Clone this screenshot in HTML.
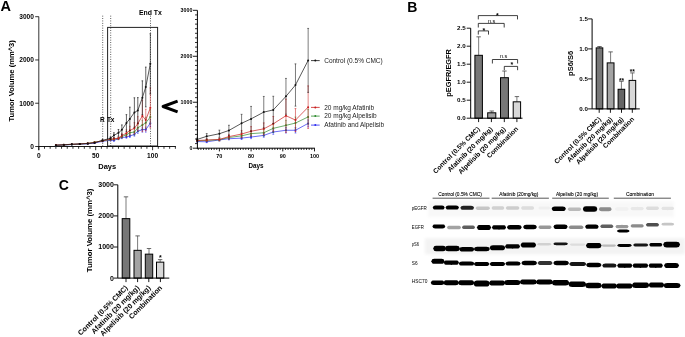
<!DOCTYPE html>
<html><head><meta charset="utf-8"><style>
html,body{margin:0;padding:0;background:#fff;}
body{width:685px;height:337px;overflow:hidden;}
svg{display:block;font-family:"Liberation Sans", sans-serif;}
text{opacity:0.999;}
</style></head><body>
<svg width="685" height="337" viewBox="0 0 685 337">
<defs>
<filter id="bandblur" x="-10%" y="-50%" width="120%" height="200%"><feGaussianBlur stdDeviation="0.6 0.65"/></filter>
<filter id="bgblur" x="-5%" y="-30%" width="110%" height="160%"><feGaussianBlur stdDeviation="1.6"/></filter>
</defs>
<rect width="685" height="337" fill="#fff"/>
<text x="0.4" y="11.4" font-size="14.5" text-anchor="start" font-weight="bold" fill="#000" >A</text>
<text x="407.3" y="11.5" font-size="14" text-anchor="start" font-weight="bold" fill="#000" >B</text>
<text x="58.8" y="190" font-size="14" text-anchor="start" font-weight="bold" fill="#000" >C</text>
<line x1="102.7" y1="15.7" x2="102.7" y2="146" stroke="#000" stroke-width="0.7" stroke-dasharray="0.9 1.5"/>
<line x1="110.7" y1="15.7" x2="110.7" y2="146" stroke="#000" stroke-width="0.7" stroke-dasharray="0.9 1.5"/>
<line x1="150.5" y1="15.7" x2="150.5" y2="146" stroke="#000" stroke-width="0.7" stroke-dasharray="0.9 1.5"/>
<rect x="107.6" y="27.4" width="50" height="118.6" fill="none" stroke="#222" stroke-width="1"/>
<line x1="38.8" y1="16.6" x2="38.8" y2="150.2" stroke="#000" stroke-width="0.8" />
<line x1="38.8" y1="146.5" x2="175.9" y2="146.5" stroke="#000" stroke-width="0.9" />
<line x1="35.2" y1="146.5" x2="38.8" y2="146.5" stroke="#000" stroke-width="0.8" />
<text x="33.9" y="148.8" font-size="6.6" text-anchor="end" font-weight="bold" fill="#000" >0</text>
<line x1="35.2" y1="103.23" x2="38.8" y2="103.23" stroke="#000" stroke-width="0.8" />
<text x="33.9" y="105.53" font-size="6.6" text-anchor="end" font-weight="bold" fill="#000" >1000</text>
<line x1="35.2" y1="59.96" x2="38.8" y2="59.96" stroke="#000" stroke-width="0.8" />
<text x="33.9" y="62.26" font-size="6.6" text-anchor="end" font-weight="bold" fill="#000" >2000</text>
<line x1="35.2" y1="16.69" x2="38.8" y2="16.69" stroke="#000" stroke-width="0.8" />
<text x="33.9" y="18.99" font-size="6.6" text-anchor="end" font-weight="bold" fill="#000" >3000</text>
<line x1="38.8" y1="146.5" x2="38.8" y2="150.2" stroke="#000" stroke-width="0.8" />
<line x1="44.49" y1="146.5" x2="44.49" y2="148.8" stroke="#000" stroke-width="0.8" />
<line x1="50.18" y1="146.5" x2="50.18" y2="148.8" stroke="#000" stroke-width="0.8" />
<line x1="55.87" y1="146.5" x2="55.87" y2="148.8" stroke="#000" stroke-width="0.8" />
<line x1="61.56" y1="146.5" x2="61.56" y2="148.8" stroke="#000" stroke-width="0.8" />
<line x1="67.25" y1="146.5" x2="67.25" y2="148.8" stroke="#000" stroke-width="0.8" />
<line x1="72.94" y1="146.5" x2="72.94" y2="148.8" stroke="#000" stroke-width="0.8" />
<line x1="78.63" y1="146.5" x2="78.63" y2="148.8" stroke="#000" stroke-width="0.8" />
<line x1="84.32" y1="146.5" x2="84.32" y2="148.8" stroke="#000" stroke-width="0.8" />
<line x1="90.01" y1="146.5" x2="90.01" y2="148.8" stroke="#000" stroke-width="0.8" />
<line x1="95.7" y1="146.5" x2="95.7" y2="150.2" stroke="#000" stroke-width="0.8" />
<line x1="101.39" y1="146.5" x2="101.39" y2="148.8" stroke="#000" stroke-width="0.8" />
<line x1="107.08" y1="146.5" x2="107.08" y2="148.8" stroke="#000" stroke-width="0.8" />
<line x1="112.77" y1="146.5" x2="112.77" y2="148.8" stroke="#000" stroke-width="0.8" />
<line x1="118.46" y1="146.5" x2="118.46" y2="148.8" stroke="#000" stroke-width="0.8" />
<line x1="124.15" y1="146.5" x2="124.15" y2="148.8" stroke="#000" stroke-width="0.8" />
<line x1="129.84" y1="146.5" x2="129.84" y2="148.8" stroke="#000" stroke-width="0.8" />
<line x1="135.53" y1="146.5" x2="135.53" y2="148.8" stroke="#000" stroke-width="0.8" />
<line x1="141.22" y1="146.5" x2="141.22" y2="148.8" stroke="#000" stroke-width="0.8" />
<line x1="146.91" y1="146.5" x2="146.91" y2="148.8" stroke="#000" stroke-width="0.8" />
<line x1="152.6" y1="146.5" x2="152.6" y2="150.2" stroke="#000" stroke-width="0.8" />
<line x1="158.29" y1="146.5" x2="158.29" y2="148.8" stroke="#000" stroke-width="0.8" />
<line x1="163.98" y1="146.5" x2="163.98" y2="148.8" stroke="#000" stroke-width="0.8" />
<line x1="169.67" y1="146.5" x2="169.67" y2="148.8" stroke="#000" stroke-width="0.8" />
<line x1="175.36" y1="146.5" x2="175.36" y2="148.8" stroke="#000" stroke-width="0.8" />
<text x="38.8" y="158" font-size="6.6" text-anchor="middle" font-weight="bold" fill="#000" >0</text>
<text x="95.7" y="158" font-size="6.6" text-anchor="middle" font-weight="bold" fill="#000" >50</text>
<text x="152.6" y="158" font-size="6.6" text-anchor="middle" font-weight="bold" fill="#000" >100</text>
<text x="107.2" y="168.9" font-size="7.5" text-anchor="middle" font-weight="bold" fill="#000" >Days</text>
<text x="0" y="0" font-size="7.6" font-weight="bold" text-anchor="middle" transform="translate(13.8 80.8) rotate(-90)">Tumor Volume (mm^3)</text>
<text x="100" y="122" font-size="6.5" text-anchor="start" font-weight="bold" fill="#000" >R</text>
<text x="106.9" y="122" font-size="6.5" text-anchor="start" font-weight="bold" fill="#000" >Tx</text>
<text x="150.4" y="14.8" font-size="6.9" text-anchor="middle" font-weight="bold" fill="#000" >End Tx</text>
<line x1="55.87" y1="145.24" x2="55.87" y2="145.51" stroke="#2b2bf0" stroke-width="0.5" />
<line x1="55.07" y1="145.24" x2="56.67" y2="145.24" stroke="#2b2bf0" stroke-width="0.5" />
<line x1="55.07" y1="145.51" x2="56.67" y2="145.51" stroke="#2b2bf0" stroke-width="0.5" />
<line x1="63.84" y1="144.85" x2="63.84" y2="145.21" stroke="#2b2bf0" stroke-width="0.5" />
<line x1="63.04" y1="144.85" x2="64.64" y2="144.85" stroke="#2b2bf0" stroke-width="0.5" />
<line x1="63.04" y1="145.21" x2="64.64" y2="145.21" stroke="#2b2bf0" stroke-width="0.5" />
<line x1="71.8" y1="144.32" x2="71.8" y2="144.79" stroke="#2b2bf0" stroke-width="0.5" />
<line x1="71" y1="144.32" x2="72.6" y2="144.32" stroke="#2b2bf0" stroke-width="0.5" />
<line x1="71" y1="144.79" x2="72.6" y2="144.79" stroke="#2b2bf0" stroke-width="0.5" />
<line x1="79.77" y1="143.83" x2="79.77" y2="144.41" stroke="#2b2bf0" stroke-width="0.5" />
<line x1="78.97" y1="143.83" x2="80.57" y2="143.83" stroke="#2b2bf0" stroke-width="0.5" />
<line x1="78.97" y1="144.41" x2="80.57" y2="144.41" stroke="#2b2bf0" stroke-width="0.5" />
<line x1="87.73" y1="143.5" x2="87.73" y2="144.14" stroke="#2b2bf0" stroke-width="0.5" />
<line x1="86.93" y1="143.5" x2="88.53" y2="143.5" stroke="#2b2bf0" stroke-width="0.5" />
<line x1="86.93" y1="144.14" x2="88.53" y2="144.14" stroke="#2b2bf0" stroke-width="0.5" />
<line x1="94.56" y1="142.62" x2="94.56" y2="143.45" stroke="#2b2bf0" stroke-width="0.5" />
<line x1="93.76" y1="142.62" x2="95.36" y2="142.62" stroke="#2b2bf0" stroke-width="0.5" />
<line x1="93.76" y1="143.45" x2="95.36" y2="143.45" stroke="#2b2bf0" stroke-width="0.5" />
<line x1="102.53" y1="140.68" x2="102.53" y2="141.93" stroke="#2b2bf0" stroke-width="0.5" />
<line x1="101.73" y1="140.68" x2="103.33" y2="140.68" stroke="#2b2bf0" stroke-width="0.5" />
<line x1="101.73" y1="141.93" x2="103.33" y2="141.93" stroke="#2b2bf0" stroke-width="0.5" />
<line x1="110.49" y1="139.58" x2="110.49" y2="140.87" stroke="#2b2bf0" stroke-width="0.5" />
<line x1="109.69" y1="139.58" x2="111.29" y2="139.58" stroke="#2b2bf0" stroke-width="0.5" />
<line x1="109.69" y1="140.87" x2="111.29" y2="140.87" stroke="#2b2bf0" stroke-width="0.5" />
<line x1="113.91" y1="139.71" x2="113.91" y2="141.26" stroke="#2b2bf0" stroke-width="0.5" />
<line x1="113.11" y1="139.71" x2="114.71" y2="139.71" stroke="#2b2bf0" stroke-width="0.5" />
<line x1="113.11" y1="141.26" x2="114.71" y2="141.26" stroke="#2b2bf0" stroke-width="0.5" />
<line x1="118.46" y1="137.76" x2="118.46" y2="139.66" stroke="#2b2bf0" stroke-width="0.5" />
<line x1="117.66" y1="137.76" x2="119.26" y2="137.76" stroke="#2b2bf0" stroke-width="0.5" />
<line x1="117.66" y1="139.66" x2="119.26" y2="139.66" stroke="#2b2bf0" stroke-width="0.5" />
<line x1="121.87" y1="136.5" x2="121.87" y2="138.67" stroke="#2b2bf0" stroke-width="0.5" />
<line x1="121.07" y1="136.5" x2="122.67" y2="136.5" stroke="#2b2bf0" stroke-width="0.5" />
<line x1="121.07" y1="138.67" x2="122.67" y2="138.67" stroke="#2b2bf0" stroke-width="0.5" />
<line x1="126.43" y1="135.73" x2="126.43" y2="138.32" stroke="#2b2bf0" stroke-width="0.5" />
<line x1="125.63" y1="135.73" x2="127.23" y2="135.73" stroke="#2b2bf0" stroke-width="0.5" />
<line x1="125.63" y1="138.32" x2="127.23" y2="138.32" stroke="#2b2bf0" stroke-width="0.5" />
<line x1="129.84" y1="134.47" x2="129.84" y2="137.5" stroke="#2b2bf0" stroke-width="0.5" />
<line x1="129.04" y1="134.47" x2="130.64" y2="134.47" stroke="#2b2bf0" stroke-width="0.5" />
<line x1="129.04" y1="137.5" x2="130.64" y2="137.5" stroke="#2b2bf0" stroke-width="0.5" />
<line x1="134.39" y1="132.74" x2="134.39" y2="136.2" stroke="#2b2bf0" stroke-width="0.5" />
<line x1="133.59" y1="132.74" x2="135.19" y2="132.74" stroke="#2b2bf0" stroke-width="0.5" />
<line x1="133.59" y1="136.2" x2="135.19" y2="136.2" stroke="#2b2bf0" stroke-width="0.5" />
<line x1="137.81" y1="129.11" x2="137.81" y2="133.43" stroke="#2b2bf0" stroke-width="0.5" />
<line x1="137.01" y1="129.11" x2="138.61" y2="129.11" stroke="#2b2bf0" stroke-width="0.5" />
<line x1="137.01" y1="133.43" x2="138.61" y2="133.43" stroke="#2b2bf0" stroke-width="0.5" />
<line x1="142.36" y1="127.03" x2="142.36" y2="132.22" stroke="#2b2bf0" stroke-width="0.5" />
<line x1="141.56" y1="127.03" x2="143.16" y2="127.03" stroke="#2b2bf0" stroke-width="0.5" />
<line x1="141.56" y1="132.22" x2="143.16" y2="132.22" stroke="#2b2bf0" stroke-width="0.5" />
<line x1="145.77" y1="127.03" x2="145.77" y2="132.22" stroke="#2b2bf0" stroke-width="0.5" />
<line x1="144.97" y1="127.03" x2="146.57" y2="127.03" stroke="#2b2bf0" stroke-width="0.5" />
<line x1="144.97" y1="132.22" x2="146.57" y2="132.22" stroke="#2b2bf0" stroke-width="0.5" />
<line x1="150.32" y1="119.89" x2="150.32" y2="126.38" stroke="#2b2bf0" stroke-width="0.5" />
<line x1="149.52" y1="119.89" x2="151.12" y2="119.89" stroke="#2b2bf0" stroke-width="0.5" />
<line x1="149.52" y1="126.38" x2="151.12" y2="126.38" stroke="#2b2bf0" stroke-width="0.5" />
<polyline points="55.87,145.37 63.84,145.03 71.8,144.55 79.77,144.12 87.73,143.82 94.56,143.04 102.53,141.31 110.49,140.23 113.91,140.49 118.46,138.71 121.87,137.59 126.43,137.02 129.84,135.99 134.39,134.47 137.81,131.27 142.36,129.62 145.77,129.62 150.32,123.13" fill="none" stroke="#2b2bf0" stroke-width="0.7"/>
<circle cx="55.87" cy="145.37" r="1" fill="#2b2bf0"/>
<circle cx="63.84" cy="145.03" r="1" fill="#2b2bf0"/>
<circle cx="71.8" cy="144.55" r="1" fill="#2b2bf0"/>
<circle cx="79.77" cy="144.12" r="1" fill="#2b2bf0"/>
<circle cx="87.73" cy="143.82" r="1" fill="#2b2bf0"/>
<circle cx="94.56" cy="143.04" r="1" fill="#2b2bf0"/>
<circle cx="102.53" cy="141.31" r="1" fill="#2b2bf0"/>
<circle cx="110.49" cy="140.23" r="1" fill="#2b2bf0"/>
<circle cx="113.91" cy="140.49" r="1" fill="#2b2bf0"/>
<circle cx="118.46" cy="138.71" r="1" fill="#2b2bf0"/>
<circle cx="121.87" cy="137.59" r="1" fill="#2b2bf0"/>
<circle cx="126.43" cy="137.02" r="1" fill="#2b2bf0"/>
<circle cx="129.84" cy="135.99" r="1" fill="#2b2bf0"/>
<circle cx="134.39" cy="134.47" r="1" fill="#2b2bf0"/>
<circle cx="137.81" cy="131.27" r="1" fill="#2b2bf0"/>
<circle cx="142.36" cy="129.62" r="1" fill="#2b2bf0"/>
<circle cx="145.77" cy="129.62" r="1" fill="#2b2bf0"/>
<circle cx="150.32" cy="123.13" r="1" fill="#2b2bf0"/>
<line x1="55.87" y1="145.14" x2="55.87" y2="145.43" stroke="#2e8b2e" stroke-width="0.5" />
<line x1="55.07" y1="145.14" x2="56.67" y2="145.14" stroke="#2e8b2e" stroke-width="0.5" />
<line x1="55.07" y1="145.43" x2="56.67" y2="145.43" stroke="#2e8b2e" stroke-width="0.5" />
<line x1="63.84" y1="144.76" x2="63.84" y2="145.13" stroke="#2e8b2e" stroke-width="0.5" />
<line x1="63.04" y1="144.76" x2="64.64" y2="144.76" stroke="#2e8b2e" stroke-width="0.5" />
<line x1="63.04" y1="145.13" x2="64.64" y2="145.13" stroke="#2e8b2e" stroke-width="0.5" />
<line x1="71.8" y1="144.17" x2="71.8" y2="144.67" stroke="#2e8b2e" stroke-width="0.5" />
<line x1="71" y1="144.17" x2="72.6" y2="144.17" stroke="#2e8b2e" stroke-width="0.5" />
<line x1="71" y1="144.67" x2="72.6" y2="144.67" stroke="#2e8b2e" stroke-width="0.5" />
<line x1="79.77" y1="143.69" x2="79.77" y2="144.29" stroke="#2e8b2e" stroke-width="0.5" />
<line x1="78.97" y1="143.69" x2="80.57" y2="143.69" stroke="#2e8b2e" stroke-width="0.5" />
<line x1="78.97" y1="144.29" x2="80.57" y2="144.29" stroke="#2e8b2e" stroke-width="0.5" />
<line x1="87.73" y1="143.11" x2="87.73" y2="143.83" stroke="#2e8b2e" stroke-width="0.5" />
<line x1="86.93" y1="143.11" x2="88.53" y2="143.11" stroke="#2e8b2e" stroke-width="0.5" />
<line x1="86.93" y1="143.83" x2="88.53" y2="143.83" stroke="#2e8b2e" stroke-width="0.5" />
<line x1="94.56" y1="141.65" x2="94.56" y2="142.69" stroke="#2e8b2e" stroke-width="0.5" />
<line x1="93.76" y1="141.65" x2="95.36" y2="141.65" stroke="#2e8b2e" stroke-width="0.5" />
<line x1="93.76" y1="142.69" x2="95.36" y2="142.69" stroke="#2e8b2e" stroke-width="0.5" />
<line x1="102.53" y1="140.2" x2="102.53" y2="141.55" stroke="#2e8b2e" stroke-width="0.5" />
<line x1="101.73" y1="140.2" x2="103.33" y2="140.2" stroke="#2e8b2e" stroke-width="0.5" />
<line x1="101.73" y1="141.55" x2="103.33" y2="141.55" stroke="#2e8b2e" stroke-width="0.5" />
<line x1="110.49" y1="138.8" x2="110.49" y2="140.36" stroke="#2e8b2e" stroke-width="0.5" />
<line x1="109.69" y1="138.8" x2="111.29" y2="138.8" stroke="#2e8b2e" stroke-width="0.5" />
<line x1="109.69" y1="140.36" x2="111.29" y2="140.36" stroke="#2e8b2e" stroke-width="0.5" />
<line x1="113.91" y1="138.19" x2="113.91" y2="140.1" stroke="#2e8b2e" stroke-width="0.5" />
<line x1="113.11" y1="138.19" x2="114.71" y2="138.19" stroke="#2e8b2e" stroke-width="0.5" />
<line x1="113.11" y1="140.1" x2="114.71" y2="140.1" stroke="#2e8b2e" stroke-width="0.5" />
<line x1="118.46" y1="137.41" x2="118.46" y2="139.58" stroke="#2e8b2e" stroke-width="0.5" />
<line x1="117.66" y1="137.41" x2="119.26" y2="137.41" stroke="#2e8b2e" stroke-width="0.5" />
<line x1="117.66" y1="139.58" x2="119.26" y2="139.58" stroke="#2e8b2e" stroke-width="0.5" />
<line x1="121.87" y1="134.95" x2="121.87" y2="137.98" stroke="#2e8b2e" stroke-width="0.5" />
<line x1="121.07" y1="134.95" x2="122.67" y2="134.95" stroke="#2e8b2e" stroke-width="0.5" />
<line x1="121.07" y1="137.98" x2="122.67" y2="137.98" stroke="#2e8b2e" stroke-width="0.5" />
<line x1="126.43" y1="132.91" x2="126.43" y2="136.81" stroke="#2e8b2e" stroke-width="0.5" />
<line x1="125.63" y1="132.91" x2="127.23" y2="132.91" stroke="#2e8b2e" stroke-width="0.5" />
<line x1="125.63" y1="136.81" x2="127.23" y2="136.81" stroke="#2e8b2e" stroke-width="0.5" />
<line x1="129.84" y1="130.19" x2="129.84" y2="135.38" stroke="#2e8b2e" stroke-width="0.5" />
<line x1="129.04" y1="130.19" x2="130.64" y2="130.19" stroke="#2e8b2e" stroke-width="0.5" />
<line x1="129.04" y1="135.38" x2="130.64" y2="135.38" stroke="#2e8b2e" stroke-width="0.5" />
<line x1="134.39" y1="128.93" x2="134.39" y2="134.99" stroke="#2e8b2e" stroke-width="0.5" />
<line x1="133.59" y1="128.93" x2="135.19" y2="128.93" stroke="#2e8b2e" stroke-width="0.5" />
<line x1="133.59" y1="134.99" x2="135.19" y2="134.99" stroke="#2e8b2e" stroke-width="0.5" />
<line x1="137.81" y1="123.91" x2="137.81" y2="131.7" stroke="#2e8b2e" stroke-width="0.5" />
<line x1="137.01" y1="123.91" x2="138.61" y2="123.91" stroke="#2e8b2e" stroke-width="0.5" />
<line x1="137.01" y1="131.7" x2="138.61" y2="131.7" stroke="#2e8b2e" stroke-width="0.5" />
<line x1="142.36" y1="120.24" x2="142.36" y2="129.75" stroke="#2e8b2e" stroke-width="0.5" />
<line x1="141.56" y1="120.24" x2="143.16" y2="120.24" stroke="#2e8b2e" stroke-width="0.5" />
<line x1="141.56" y1="129.75" x2="143.16" y2="129.75" stroke="#2e8b2e" stroke-width="0.5" />
<line x1="145.77" y1="117.21" x2="145.77" y2="128.46" stroke="#2e8b2e" stroke-width="0.5" />
<line x1="144.97" y1="117.21" x2="146.57" y2="117.21" stroke="#2e8b2e" stroke-width="0.5" />
<line x1="144.97" y1="128.46" x2="146.57" y2="128.46" stroke="#2e8b2e" stroke-width="0.5" />
<line x1="150.32" y1="110.11" x2="150.32" y2="123.96" stroke="#2e8b2e" stroke-width="0.5" />
<line x1="149.52" y1="110.11" x2="151.12" y2="110.11" stroke="#2e8b2e" stroke-width="0.5" />
<line x1="149.52" y1="123.96" x2="151.12" y2="123.96" stroke="#2e8b2e" stroke-width="0.5" />
<polyline points="55.87,145.29 63.84,144.94 71.8,144.42 79.77,143.99 87.73,143.47 94.56,142.17 102.53,140.87 110.49,139.58 113.91,139.14 118.46,138.5 121.87,136.46 126.43,134.86 129.84,132.78 134.39,131.96 137.81,127.81 142.36,124.99 145.77,122.83 150.32,117.03" fill="none" stroke="#2e8b2e" stroke-width="0.7"/>
<circle cx="55.87" cy="145.29" r="1" fill="#2e8b2e"/>
<circle cx="63.84" cy="144.94" r="1" fill="#2e8b2e"/>
<circle cx="71.8" cy="144.42" r="1" fill="#2e8b2e"/>
<circle cx="79.77" cy="143.99" r="1" fill="#2e8b2e"/>
<circle cx="87.73" cy="143.47" r="1" fill="#2e8b2e"/>
<circle cx="94.56" cy="142.17" r="1" fill="#2e8b2e"/>
<circle cx="102.53" cy="140.87" r="1" fill="#2e8b2e"/>
<circle cx="110.49" cy="139.58" r="1" fill="#2e8b2e"/>
<circle cx="113.91" cy="139.14" r="1" fill="#2e8b2e"/>
<circle cx="118.46" cy="138.5" r="1" fill="#2e8b2e"/>
<circle cx="121.87" cy="136.46" r="1" fill="#2e8b2e"/>
<circle cx="126.43" cy="134.86" r="1" fill="#2e8b2e"/>
<circle cx="129.84" cy="132.78" r="1" fill="#2e8b2e"/>
<circle cx="134.39" cy="131.96" r="1" fill="#2e8b2e"/>
<circle cx="137.81" cy="127.81" r="1" fill="#2e8b2e"/>
<circle cx="142.36" cy="124.99" r="1" fill="#2e8b2e"/>
<circle cx="145.77" cy="122.83" r="1" fill="#2e8b2e"/>
<circle cx="150.32" cy="117.03" r="1" fill="#2e8b2e"/>
<line x1="55.87" y1="144.95" x2="55.87" y2="145.28" stroke="#c81e1e" stroke-width="0.5" />
<line x1="55.07" y1="144.95" x2="56.67" y2="144.95" stroke="#c81e1e" stroke-width="0.5" />
<line x1="55.07" y1="145.28" x2="56.67" y2="145.28" stroke="#c81e1e" stroke-width="0.5" />
<line x1="63.84" y1="144.56" x2="63.84" y2="144.98" stroke="#c81e1e" stroke-width="0.5" />
<line x1="63.04" y1="144.56" x2="64.64" y2="144.56" stroke="#c81e1e" stroke-width="0.5" />
<line x1="63.04" y1="144.98" x2="64.64" y2="144.98" stroke="#c81e1e" stroke-width="0.5" />
<line x1="71.8" y1="144.08" x2="71.8" y2="144.6" stroke="#c81e1e" stroke-width="0.5" />
<line x1="71" y1="144.08" x2="72.6" y2="144.08" stroke="#c81e1e" stroke-width="0.5" />
<line x1="71" y1="144.6" x2="72.6" y2="144.6" stroke="#c81e1e" stroke-width="0.5" />
<line x1="79.77" y1="143.59" x2="79.77" y2="144.22" stroke="#c81e1e" stroke-width="0.5" />
<line x1="78.97" y1="143.59" x2="80.57" y2="143.59" stroke="#c81e1e" stroke-width="0.5" />
<line x1="78.97" y1="144.22" x2="80.57" y2="144.22" stroke="#c81e1e" stroke-width="0.5" />
<line x1="87.73" y1="143.01" x2="87.73" y2="143.76" stroke="#c81e1e" stroke-width="0.5" />
<line x1="86.93" y1="143.01" x2="88.53" y2="143.01" stroke="#c81e1e" stroke-width="0.5" />
<line x1="86.93" y1="143.76" x2="88.53" y2="143.76" stroke="#c81e1e" stroke-width="0.5" />
<line x1="94.56" y1="141.9" x2="94.56" y2="142.88" stroke="#c81e1e" stroke-width="0.5" />
<line x1="93.76" y1="141.9" x2="95.36" y2="141.9" stroke="#c81e1e" stroke-width="0.5" />
<line x1="93.76" y1="142.88" x2="95.36" y2="142.88" stroke="#c81e1e" stroke-width="0.5" />
<line x1="102.53" y1="139.96" x2="102.53" y2="141.36" stroke="#c81e1e" stroke-width="0.5" />
<line x1="101.73" y1="139.96" x2="103.33" y2="139.96" stroke="#c81e1e" stroke-width="0.5" />
<line x1="101.73" y1="141.36" x2="103.33" y2="141.36" stroke="#c81e1e" stroke-width="0.5" />
<line x1="110.49" y1="138.41" x2="110.49" y2="140.14" stroke="#c81e1e" stroke-width="0.5" />
<line x1="109.69" y1="138.41" x2="111.29" y2="138.41" stroke="#c81e1e" stroke-width="0.5" />
<line x1="109.69" y1="140.14" x2="111.29" y2="140.14" stroke="#c81e1e" stroke-width="0.5" />
<line x1="113.91" y1="137.72" x2="113.91" y2="139.88" stroke="#c81e1e" stroke-width="0.5" />
<line x1="113.11" y1="137.72" x2="114.71" y2="137.72" stroke="#c81e1e" stroke-width="0.5" />
<line x1="113.11" y1="139.88" x2="114.71" y2="139.88" stroke="#c81e1e" stroke-width="0.5" />
<line x1="118.46" y1="136.94" x2="118.46" y2="139.53" stroke="#c81e1e" stroke-width="0.5" />
<line x1="117.66" y1="136.94" x2="119.26" y2="136.94" stroke="#c81e1e" stroke-width="0.5" />
<line x1="117.66" y1="139.53" x2="119.26" y2="139.53" stroke="#c81e1e" stroke-width="0.5" />
<line x1="121.87" y1="133.43" x2="121.87" y2="137.76" stroke="#c81e1e" stroke-width="0.5" />
<line x1="121.07" y1="133.43" x2="122.67" y2="133.43" stroke="#c81e1e" stroke-width="0.5" />
<line x1="121.07" y1="137.76" x2="122.67" y2="137.76" stroke="#c81e1e" stroke-width="0.5" />
<line x1="126.43" y1="129.8" x2="126.43" y2="136.55" stroke="#c81e1e" stroke-width="0.5" />
<line x1="125.63" y1="129.8" x2="127.23" y2="129.8" stroke="#c81e1e" stroke-width="0.5" />
<line x1="125.63" y1="136.55" x2="127.23" y2="136.55" stroke="#c81e1e" stroke-width="0.5" />
<line x1="129.84" y1="126.21" x2="129.84" y2="134.86" stroke="#c81e1e" stroke-width="0.5" />
<line x1="129.04" y1="126.21" x2="130.64" y2="126.21" stroke="#c81e1e" stroke-width="0.5" />
<line x1="129.04" y1="134.86" x2="130.64" y2="134.86" stroke="#c81e1e" stroke-width="0.5" />
<line x1="134.39" y1="122.66" x2="134.39" y2="133.91" stroke="#c81e1e" stroke-width="0.5" />
<line x1="133.59" y1="122.66" x2="135.19" y2="122.66" stroke="#c81e1e" stroke-width="0.5" />
<line x1="133.59" y1="133.91" x2="135.19" y2="133.91" stroke="#c81e1e" stroke-width="0.5" />
<line x1="137.81" y1="116.64" x2="137.81" y2="130.49" stroke="#c81e1e" stroke-width="0.5" />
<line x1="137.01" y1="116.64" x2="138.61" y2="116.64" stroke="#c81e1e" stroke-width="0.5" />
<line x1="137.01" y1="130.49" x2="138.61" y2="130.49" stroke="#c81e1e" stroke-width="0.5" />
<line x1="142.36" y1="100.24" x2="142.36" y2="131.57" stroke="#c81e1e" stroke-width="0.5" />
<line x1="141.56" y1="100.24" x2="143.16" y2="100.24" stroke="#c81e1e" stroke-width="0.5" />
<line x1="141.56" y1="131.57" x2="143.16" y2="131.57" stroke="#c81e1e" stroke-width="0.5" />
<line x1="145.77" y1="109.2" x2="145.77" y2="130.84" stroke="#c81e1e" stroke-width="0.5" />
<line x1="144.97" y1="109.2" x2="146.57" y2="109.2" stroke="#c81e1e" stroke-width="0.5" />
<line x1="144.97" y1="130.84" x2="146.57" y2="130.84" stroke="#c81e1e" stroke-width="0.5" />
<line x1="150.32" y1="87.83" x2="150.32" y2="127.89" stroke="#c81e1e" stroke-width="0.5" />
<line x1="149.52" y1="87.83" x2="151.12" y2="87.83" stroke="#c81e1e" stroke-width="0.5" />
<line x1="149.52" y1="127.89" x2="151.12" y2="127.89" stroke="#c81e1e" stroke-width="0.5" />
<polyline points="55.87,145.12 63.84,144.77 71.8,144.34 79.77,143.9 87.73,143.38 94.56,142.39 102.53,140.66 110.49,139.27 113.91,138.8 118.46,138.24 121.87,135.6 126.43,133.17 129.84,130.53 134.39,128.28 137.81,123.57 142.36,115.91 145.77,120.02 150.32,107.86" fill="none" stroke="#c81e1e" stroke-width="0.7"/>
<circle cx="55.87" cy="145.12" r="1" fill="#c81e1e"/>
<circle cx="63.84" cy="144.77" r="1" fill="#c81e1e"/>
<circle cx="71.8" cy="144.34" r="1" fill="#c81e1e"/>
<circle cx="79.77" cy="143.9" r="1" fill="#c81e1e"/>
<circle cx="87.73" cy="143.38" r="1" fill="#c81e1e"/>
<circle cx="94.56" cy="142.39" r="1" fill="#c81e1e"/>
<circle cx="102.53" cy="140.66" r="1" fill="#c81e1e"/>
<circle cx="110.49" cy="139.27" r="1" fill="#c81e1e"/>
<circle cx="113.91" cy="138.8" r="1" fill="#c81e1e"/>
<circle cx="118.46" cy="138.24" r="1" fill="#c81e1e"/>
<circle cx="121.87" cy="135.6" r="1" fill="#c81e1e"/>
<circle cx="126.43" cy="133.17" r="1" fill="#c81e1e"/>
<circle cx="129.84" cy="130.53" r="1" fill="#c81e1e"/>
<circle cx="134.39" cy="128.28" r="1" fill="#c81e1e"/>
<circle cx="137.81" cy="123.57" r="1" fill="#c81e1e"/>
<circle cx="142.36" cy="115.91" r="1" fill="#c81e1e"/>
<circle cx="145.77" cy="120.02" r="1" fill="#c81e1e"/>
<circle cx="150.32" cy="107.86" r="1" fill="#c81e1e"/>
<line x1="55.87" y1="145.05" x2="55.87" y2="145.36" stroke="#111" stroke-width="0.65" />
<line x1="55.07" y1="145.05" x2="56.67" y2="145.05" stroke="#111" stroke-width="0.65" />
<line x1="55.07" y1="145.36" x2="56.67" y2="145.36" stroke="#111" stroke-width="0.65" />
<line x1="63.84" y1="144.61" x2="63.84" y2="145.01" stroke="#111" stroke-width="0.65" />
<line x1="63.04" y1="144.61" x2="64.64" y2="144.61" stroke="#111" stroke-width="0.65" />
<line x1="63.04" y1="145.01" x2="64.64" y2="145.01" stroke="#111" stroke-width="0.65" />
<line x1="71.8" y1="143.93" x2="71.8" y2="144.48" stroke="#111" stroke-width="0.65" />
<line x1="71" y1="143.93" x2="72.6" y2="143.93" stroke="#111" stroke-width="0.65" />
<line x1="71" y1="144.48" x2="72.6" y2="144.48" stroke="#111" stroke-width="0.65" />
<line x1="79.77" y1="143.69" x2="79.77" y2="144.29" stroke="#111" stroke-width="0.65" />
<line x1="78.97" y1="143.69" x2="80.57" y2="143.69" stroke="#111" stroke-width="0.65" />
<line x1="78.97" y1="144.29" x2="80.57" y2="144.29" stroke="#111" stroke-width="0.65" />
<line x1="87.73" y1="143.16" x2="87.73" y2="143.87" stroke="#111" stroke-width="0.65" />
<line x1="86.93" y1="143.16" x2="88.53" y2="143.16" stroke="#111" stroke-width="0.65" />
<line x1="86.93" y1="143.87" x2="88.53" y2="143.87" stroke="#111" stroke-width="0.65" />
<line x1="94.56" y1="142.38" x2="94.56" y2="143.26" stroke="#111" stroke-width="0.65" />
<line x1="93.76" y1="142.38" x2="95.36" y2="142.38" stroke="#111" stroke-width="0.65" />
<line x1="93.76" y1="143.26" x2="95.36" y2="143.26" stroke="#111" stroke-width="0.65" />
<line x1="102.53" y1="139.67" x2="102.53" y2="141.13" stroke="#111" stroke-width="0.65" />
<line x1="101.73" y1="139.67" x2="103.33" y2="139.67" stroke="#111" stroke-width="0.65" />
<line x1="101.73" y1="141.13" x2="103.33" y2="141.13" stroke="#111" stroke-width="0.65" />
<line x1="110.49" y1="136.94" x2="110.49" y2="139.53" stroke="#111" stroke-width="0.65" />
<line x1="109.69" y1="136.94" x2="111.29" y2="136.94" stroke="#111" stroke-width="0.65" />
<line x1="109.69" y1="139.53" x2="111.29" y2="139.53" stroke="#111" stroke-width="0.65" />
<line x1="113.91" y1="132.74" x2="113.91" y2="137.93" stroke="#111" stroke-width="0.65" />
<line x1="113.11" y1="132.74" x2="114.71" y2="132.74" stroke="#111" stroke-width="0.65" />
<line x1="113.11" y1="137.93" x2="114.71" y2="137.93" stroke="#111" stroke-width="0.65" />
<line x1="118.46" y1="129.49" x2="118.46" y2="136.25" stroke="#111" stroke-width="0.65" />
<line x1="117.66" y1="129.49" x2="119.26" y2="129.49" stroke="#111" stroke-width="0.65" />
<line x1="117.66" y1="136.25" x2="119.26" y2="136.25" stroke="#111" stroke-width="0.65" />
<line x1="121.87" y1="124.91" x2="121.87" y2="134.69" stroke="#111" stroke-width="0.65" />
<line x1="121.07" y1="124.91" x2="122.67" y2="124.91" stroke="#111" stroke-width="0.65" />
<line x1="121.07" y1="134.69" x2="122.67" y2="134.69" stroke="#111" stroke-width="0.65" />
<line x1="126.43" y1="114.61" x2="126.43" y2="131.49" stroke="#111" stroke-width="0.65" />
<line x1="125.63" y1="114.61" x2="127.23" y2="114.61" stroke="#111" stroke-width="0.65" />
<line x1="125.63" y1="131.49" x2="127.23" y2="131.49" stroke="#111" stroke-width="0.65" />
<line x1="129.84" y1="107.17" x2="129.84" y2="130.62" stroke="#111" stroke-width="0.65" />
<line x1="129.04" y1="107.17" x2="130.64" y2="107.17" stroke="#111" stroke-width="0.65" />
<line x1="129.04" y1="130.62" x2="130.64" y2="130.62" stroke="#111" stroke-width="0.65" />
<line x1="134.39" y1="97.78" x2="134.39" y2="127.29" stroke="#111" stroke-width="0.65" />
<line x1="133.59" y1="97.78" x2="135.19" y2="97.78" stroke="#111" stroke-width="0.65" />
<line x1="133.59" y1="127.29" x2="135.19" y2="127.29" stroke="#111" stroke-width="0.65" />
<line x1="137.81" y1="97.6" x2="137.81" y2="123.31" stroke="#111" stroke-width="0.65" />
<line x1="137.01" y1="97.6" x2="138.61" y2="97.6" stroke="#111" stroke-width="0.65" />
<line x1="137.01" y1="123.31" x2="138.61" y2="123.31" stroke="#111" stroke-width="0.65" />
<line x1="142.36" y1="80.82" x2="142.36" y2="114.57" stroke="#111" stroke-width="0.65" />
<line x1="141.56" y1="80.82" x2="143.16" y2="80.82" stroke="#111" stroke-width="0.65" />
<line x1="141.56" y1="114.57" x2="143.16" y2="114.57" stroke="#111" stroke-width="0.65" />
<line x1="145.77" y1="67.1" x2="145.77" y2="106.91" stroke="#111" stroke-width="0.65" />
<line x1="144.97" y1="67.1" x2="146.57" y2="67.1" stroke="#111" stroke-width="0.65" />
<line x1="144.97" y1="106.91" x2="146.57" y2="106.91" stroke="#111" stroke-width="0.65" />
<line x1="150.32" y1="33.74" x2="150.32" y2="93.97" stroke="#111" stroke-width="0.65" />
<line x1="149.52" y1="33.74" x2="151.12" y2="33.74" stroke="#111" stroke-width="0.65" />
<line x1="149.52" y1="93.97" x2="151.12" y2="93.97" stroke="#111" stroke-width="0.65" />
<polyline points="55.87,145.2 63.84,144.81 71.8,144.21 79.77,143.99 87.73,143.51 94.56,142.82 102.53,140.4 110.49,138.24 113.91,135.34 118.46,132.87 121.87,129.8 126.43,123.05 129.84,118.89 134.39,112.53 137.81,110.46 142.36,97.69 145.77,87 150.32,63.85" fill="none" stroke="#111" stroke-width="0.7"/>
<circle cx="55.87" cy="145.2" r="1" fill="#111"/>
<circle cx="63.84" cy="144.81" r="1" fill="#111"/>
<circle cx="71.8" cy="144.21" r="1" fill="#111"/>
<circle cx="79.77" cy="143.99" r="1" fill="#111"/>
<circle cx="87.73" cy="143.51" r="1" fill="#111"/>
<circle cx="94.56" cy="142.82" r="1" fill="#111"/>
<circle cx="102.53" cy="140.4" r="1" fill="#111"/>
<circle cx="110.49" cy="138.24" r="1" fill="#111"/>
<circle cx="113.91" cy="135.34" r="1" fill="#111"/>
<circle cx="118.46" cy="132.87" r="1" fill="#111"/>
<circle cx="121.87" cy="129.8" r="1" fill="#111"/>
<circle cx="126.43" cy="123.05" r="1" fill="#111"/>
<circle cx="129.84" cy="118.89" r="1" fill="#111"/>
<circle cx="134.39" cy="112.53" r="1" fill="#111"/>
<circle cx="137.81" cy="110.46" r="1" fill="#111"/>
<circle cx="142.36" cy="97.69" r="1" fill="#111"/>
<circle cx="145.77" cy="87" r="1" fill="#111"/>
<circle cx="150.32" cy="63.85" r="1" fill="#111"/>
<polyline points="177.6,101.1 163.1,106.5 177.6,111.9" fill="none" stroke="#000" stroke-width="3.0" stroke-linejoin="round"/>
<line x1="197.2" y1="140.85" x2="197.2" y2="142.23" stroke="#2b2bf0" stroke-width="0.55" />
<line x1="196.3" y1="140.85" x2="198.1" y2="140.85" stroke="#2b2bf0" stroke-width="0.55" />
<line x1="196.3" y1="142.23" x2="198.1" y2="142.23" stroke="#2b2bf0" stroke-width="0.55" />
<line x1="206.71" y1="140.98" x2="206.71" y2="142.64" stroke="#2b2bf0" stroke-width="0.55" />
<line x1="205.81" y1="140.98" x2="207.61" y2="140.98" stroke="#2b2bf0" stroke-width="0.55" />
<line x1="205.81" y1="142.64" x2="207.61" y2="142.64" stroke="#2b2bf0" stroke-width="0.55" />
<line x1="219.39" y1="138.92" x2="219.39" y2="140.94" stroke="#2b2bf0" stroke-width="0.55" />
<line x1="218.49" y1="138.92" x2="220.29" y2="138.92" stroke="#2b2bf0" stroke-width="0.55" />
<line x1="218.49" y1="140.94" x2="220.29" y2="140.94" stroke="#2b2bf0" stroke-width="0.55" />
<line x1="228.9" y1="137.58" x2="228.9" y2="139.88" stroke="#2b2bf0" stroke-width="0.55" />
<line x1="228" y1="137.58" x2="229.8" y2="137.58" stroke="#2b2bf0" stroke-width="0.55" />
<line x1="228" y1="139.88" x2="229.8" y2="139.88" stroke="#2b2bf0" stroke-width="0.55" />
<line x1="241.58" y1="136.76" x2="241.58" y2="139.51" stroke="#2b2bf0" stroke-width="0.55" />
<line x1="240.68" y1="136.76" x2="242.48" y2="136.76" stroke="#2b2bf0" stroke-width="0.55" />
<line x1="240.68" y1="139.51" x2="242.48" y2="139.51" stroke="#2b2bf0" stroke-width="0.55" />
<line x1="251.09" y1="135.42" x2="251.09" y2="138.64" stroke="#2b2bf0" stroke-width="0.55" />
<line x1="250.19" y1="135.42" x2="251.99" y2="135.42" stroke="#2b2bf0" stroke-width="0.55" />
<line x1="250.19" y1="138.64" x2="251.99" y2="138.64" stroke="#2b2bf0" stroke-width="0.55" />
<line x1="263.77" y1="133.58" x2="263.77" y2="137.26" stroke="#2b2bf0" stroke-width="0.55" />
<line x1="262.87" y1="133.58" x2="264.67" y2="133.58" stroke="#2b2bf0" stroke-width="0.55" />
<line x1="262.87" y1="137.26" x2="264.67" y2="137.26" stroke="#2b2bf0" stroke-width="0.55" />
<line x1="273.28" y1="129.72" x2="273.28" y2="134.32" stroke="#2b2bf0" stroke-width="0.55" />
<line x1="272.38" y1="129.72" x2="274.18" y2="129.72" stroke="#2b2bf0" stroke-width="0.55" />
<line x1="272.38" y1="134.32" x2="274.18" y2="134.32" stroke="#2b2bf0" stroke-width="0.55" />
<line x1="285.96" y1="127.52" x2="285.96" y2="133.03" stroke="#2b2bf0" stroke-width="0.55" />
<line x1="285.06" y1="127.52" x2="286.86" y2="127.52" stroke="#2b2bf0" stroke-width="0.55" />
<line x1="285.06" y1="133.03" x2="286.86" y2="133.03" stroke="#2b2bf0" stroke-width="0.55" />
<line x1="295.47" y1="127.52" x2="295.47" y2="133.03" stroke="#2b2bf0" stroke-width="0.55" />
<line x1="294.57" y1="127.52" x2="296.37" y2="127.52" stroke="#2b2bf0" stroke-width="0.55" />
<line x1="294.57" y1="133.03" x2="296.37" y2="133.03" stroke="#2b2bf0" stroke-width="0.55" />
<line x1="308.15" y1="119.93" x2="308.15" y2="126.83" stroke="#2b2bf0" stroke-width="0.55" />
<line x1="307.25" y1="119.93" x2="309.05" y2="119.93" stroke="#2b2bf0" stroke-width="0.55" />
<line x1="307.25" y1="126.83" x2="309.05" y2="126.83" stroke="#2b2bf0" stroke-width="0.55" />
<polyline points="197.2,141.54 206.71,141.81 219.39,139.93 228.9,138.73 241.58,138.13 251.09,137.03 263.77,135.42 273.28,132.02 285.96,130.28 295.47,130.28 308.15,123.38" fill="none" stroke="#2b2bf0" stroke-width="0.7"/>
<circle cx="197.2" cy="141.54" r="1" fill="#2b2bf0"/>
<circle cx="206.71" cy="141.81" r="1" fill="#2b2bf0"/>
<circle cx="219.39" cy="139.93" r="1" fill="#2b2bf0"/>
<circle cx="228.9" cy="138.73" r="1" fill="#2b2bf0"/>
<circle cx="241.58" cy="138.13" r="1" fill="#2b2bf0"/>
<circle cx="251.09" cy="137.03" r="1" fill="#2b2bf0"/>
<circle cx="263.77" cy="135.42" r="1" fill="#2b2bf0"/>
<circle cx="273.28" cy="132.02" r="1" fill="#2b2bf0"/>
<circle cx="285.96" cy="130.28" r="1" fill="#2b2bf0"/>
<circle cx="295.47" cy="130.28" r="1" fill="#2b2bf0"/>
<circle cx="308.15" cy="123.38" r="1" fill="#2b2bf0"/>
<line x1="197.2" y1="140.02" x2="197.2" y2="141.67" stroke="#2e8b2e" stroke-width="0.55" />
<line x1="196.3" y1="140.02" x2="198.1" y2="140.02" stroke="#2e8b2e" stroke-width="0.55" />
<line x1="196.3" y1="141.67" x2="198.1" y2="141.67" stroke="#2e8b2e" stroke-width="0.55" />
<line x1="206.71" y1="139.38" x2="206.71" y2="141.4" stroke="#2e8b2e" stroke-width="0.55" />
<line x1="205.81" y1="139.38" x2="207.61" y2="139.38" stroke="#2e8b2e" stroke-width="0.55" />
<line x1="205.81" y1="141.4" x2="207.61" y2="141.4" stroke="#2e8b2e" stroke-width="0.55" />
<line x1="219.39" y1="138.55" x2="219.39" y2="140.85" stroke="#2e8b2e" stroke-width="0.55" />
<line x1="218.49" y1="138.55" x2="220.29" y2="138.55" stroke="#2e8b2e" stroke-width="0.55" />
<line x1="218.49" y1="140.85" x2="220.29" y2="140.85" stroke="#2e8b2e" stroke-width="0.55" />
<line x1="228.9" y1="135.93" x2="228.9" y2="139.15" stroke="#2e8b2e" stroke-width="0.55" />
<line x1="228" y1="135.93" x2="229.8" y2="135.93" stroke="#2e8b2e" stroke-width="0.55" />
<line x1="228" y1="139.15" x2="229.8" y2="139.15" stroke="#2e8b2e" stroke-width="0.55" />
<line x1="241.58" y1="133.77" x2="241.58" y2="137.9" stroke="#2e8b2e" stroke-width="0.55" />
<line x1="240.68" y1="133.77" x2="242.48" y2="133.77" stroke="#2e8b2e" stroke-width="0.55" />
<line x1="240.68" y1="137.9" x2="242.48" y2="137.9" stroke="#2e8b2e" stroke-width="0.55" />
<line x1="251.09" y1="130.87" x2="251.09" y2="136.39" stroke="#2e8b2e" stroke-width="0.55" />
<line x1="250.19" y1="130.87" x2="251.99" y2="130.87" stroke="#2e8b2e" stroke-width="0.55" />
<line x1="250.19" y1="136.39" x2="251.99" y2="136.39" stroke="#2e8b2e" stroke-width="0.55" />
<line x1="263.77" y1="129.54" x2="263.77" y2="135.97" stroke="#2e8b2e" stroke-width="0.55" />
<line x1="262.87" y1="129.54" x2="264.67" y2="129.54" stroke="#2e8b2e" stroke-width="0.55" />
<line x1="262.87" y1="135.97" x2="264.67" y2="135.97" stroke="#2e8b2e" stroke-width="0.55" />
<line x1="273.28" y1="124.21" x2="273.28" y2="132.48" stroke="#2e8b2e" stroke-width="0.55" />
<line x1="272.38" y1="124.21" x2="274.18" y2="124.21" stroke="#2e8b2e" stroke-width="0.55" />
<line x1="272.38" y1="132.48" x2="274.18" y2="132.48" stroke="#2e8b2e" stroke-width="0.55" />
<line x1="285.96" y1="120.3" x2="285.96" y2="130.41" stroke="#2e8b2e" stroke-width="0.55" />
<line x1="285.06" y1="120.3" x2="286.86" y2="120.3" stroke="#2e8b2e" stroke-width="0.55" />
<line x1="285.06" y1="130.41" x2="286.86" y2="130.41" stroke="#2e8b2e" stroke-width="0.55" />
<line x1="295.47" y1="117.09" x2="295.47" y2="129.03" stroke="#2e8b2e" stroke-width="0.55" />
<line x1="294.57" y1="117.09" x2="296.37" y2="117.09" stroke="#2e8b2e" stroke-width="0.55" />
<line x1="294.57" y1="129.03" x2="296.37" y2="129.03" stroke="#2e8b2e" stroke-width="0.55" />
<line x1="308.15" y1="109.55" x2="308.15" y2="124.25" stroke="#2e8b2e" stroke-width="0.55" />
<line x1="307.25" y1="109.55" x2="309.05" y2="109.55" stroke="#2e8b2e" stroke-width="0.55" />
<line x1="307.25" y1="124.25" x2="309.05" y2="124.25" stroke="#2e8b2e" stroke-width="0.55" />
<polyline points="197.2,140.85 206.71,140.39 219.39,139.7 228.9,137.54 241.58,135.84 251.09,133.63 263.77,132.76 273.28,128.35 285.96,125.36 295.47,123.06 308.15,116.9" fill="none" stroke="#2e8b2e" stroke-width="0.7"/>
<circle cx="197.2" cy="140.85" r="1" fill="#2e8b2e"/>
<circle cx="206.71" cy="140.39" r="1" fill="#2e8b2e"/>
<circle cx="219.39" cy="139.7" r="1" fill="#2e8b2e"/>
<circle cx="228.9" cy="137.54" r="1" fill="#2e8b2e"/>
<circle cx="241.58" cy="135.84" r="1" fill="#2e8b2e"/>
<circle cx="251.09" cy="133.63" r="1" fill="#2e8b2e"/>
<circle cx="263.77" cy="132.76" r="1" fill="#2e8b2e"/>
<circle cx="273.28" cy="128.35" r="1" fill="#2e8b2e"/>
<circle cx="285.96" cy="125.36" r="1" fill="#2e8b2e"/>
<circle cx="295.47" cy="123.06" r="1" fill="#2e8b2e"/>
<circle cx="308.15" cy="116.9" r="1" fill="#2e8b2e"/>
<line x1="197.2" y1="139.61" x2="197.2" y2="141.44" stroke="#c81e1e" stroke-width="0.55" />
<line x1="196.3" y1="139.61" x2="198.1" y2="139.61" stroke="#c81e1e" stroke-width="0.55" />
<line x1="196.3" y1="141.44" x2="198.1" y2="141.44" stroke="#c81e1e" stroke-width="0.55" />
<line x1="206.71" y1="138.87" x2="206.71" y2="141.17" stroke="#c81e1e" stroke-width="0.55" />
<line x1="205.81" y1="138.87" x2="207.61" y2="138.87" stroke="#c81e1e" stroke-width="0.55" />
<line x1="205.81" y1="141.17" x2="207.61" y2="141.17" stroke="#c81e1e" stroke-width="0.55" />
<line x1="219.39" y1="138.04" x2="219.39" y2="140.8" stroke="#c81e1e" stroke-width="0.55" />
<line x1="218.49" y1="138.04" x2="220.29" y2="138.04" stroke="#c81e1e" stroke-width="0.55" />
<line x1="218.49" y1="140.8" x2="220.29" y2="140.8" stroke="#c81e1e" stroke-width="0.55" />
<line x1="228.9" y1="134.32" x2="228.9" y2="138.92" stroke="#c81e1e" stroke-width="0.55" />
<line x1="228" y1="134.32" x2="229.8" y2="134.32" stroke="#c81e1e" stroke-width="0.55" />
<line x1="228" y1="138.92" x2="229.8" y2="138.92" stroke="#c81e1e" stroke-width="0.55" />
<line x1="241.58" y1="130.46" x2="241.58" y2="137.63" stroke="#c81e1e" stroke-width="0.55" />
<line x1="240.68" y1="130.46" x2="242.48" y2="130.46" stroke="#c81e1e" stroke-width="0.55" />
<line x1="240.68" y1="137.63" x2="242.48" y2="137.63" stroke="#c81e1e" stroke-width="0.55" />
<line x1="251.09" y1="126.64" x2="251.09" y2="135.84" stroke="#c81e1e" stroke-width="0.55" />
<line x1="250.19" y1="126.64" x2="251.99" y2="126.64" stroke="#c81e1e" stroke-width="0.55" />
<line x1="250.19" y1="135.84" x2="251.99" y2="135.84" stroke="#c81e1e" stroke-width="0.55" />
<line x1="263.77" y1="122.88" x2="263.77" y2="134.83" stroke="#c81e1e" stroke-width="0.55" />
<line x1="262.87" y1="122.88" x2="264.67" y2="122.88" stroke="#c81e1e" stroke-width="0.55" />
<line x1="262.87" y1="134.83" x2="264.67" y2="134.83" stroke="#c81e1e" stroke-width="0.55" />
<line x1="273.28" y1="116.49" x2="273.28" y2="131.19" stroke="#c81e1e" stroke-width="0.55" />
<line x1="272.38" y1="116.49" x2="274.18" y2="116.49" stroke="#c81e1e" stroke-width="0.55" />
<line x1="272.38" y1="131.19" x2="274.18" y2="131.19" stroke="#c81e1e" stroke-width="0.55" />
<line x1="285.96" y1="99.07" x2="285.96" y2="132.34" stroke="#c81e1e" stroke-width="0.55" />
<line x1="285.06" y1="99.07" x2="286.86" y2="99.07" stroke="#c81e1e" stroke-width="0.55" />
<line x1="285.06" y1="132.34" x2="286.86" y2="132.34" stroke="#c81e1e" stroke-width="0.55" />
<line x1="295.47" y1="108.58" x2="295.47" y2="131.56" stroke="#c81e1e" stroke-width="0.55" />
<line x1="294.57" y1="108.58" x2="296.37" y2="108.58" stroke="#c81e1e" stroke-width="0.55" />
<line x1="294.57" y1="131.56" x2="296.37" y2="131.56" stroke="#c81e1e" stroke-width="0.55" />
<line x1="308.15" y1="85.88" x2="308.15" y2="128.44" stroke="#c81e1e" stroke-width="0.55" />
<line x1="307.25" y1="85.88" x2="309.05" y2="85.88" stroke="#c81e1e" stroke-width="0.55" />
<line x1="307.25" y1="128.44" x2="309.05" y2="128.44" stroke="#c81e1e" stroke-width="0.55" />
<polyline points="197.2,140.52 206.71,140.02 219.39,139.42 228.9,136.62 241.58,134.04 251.09,131.24 263.77,128.85 273.28,123.84 285.96,115.71 295.47,120.07 308.15,107.16" fill="none" stroke="#c81e1e" stroke-width="0.7"/>
<circle cx="197.2" cy="140.52" r="1" fill="#c81e1e"/>
<circle cx="206.71" cy="140.02" r="1" fill="#c81e1e"/>
<circle cx="219.39" cy="139.42" r="1" fill="#c81e1e"/>
<circle cx="228.9" cy="136.62" r="1" fill="#c81e1e"/>
<circle cx="241.58" cy="134.04" r="1" fill="#c81e1e"/>
<circle cx="251.09" cy="131.24" r="1" fill="#c81e1e"/>
<circle cx="263.77" cy="128.85" r="1" fill="#c81e1e"/>
<circle cx="273.28" cy="123.84" r="1" fill="#c81e1e"/>
<circle cx="285.96" cy="115.71" r="1" fill="#c81e1e"/>
<circle cx="295.47" cy="120.07" r="1" fill="#c81e1e"/>
<circle cx="308.15" cy="107.16" r="1" fill="#c81e1e"/>
<line x1="197.2" y1="138.04" x2="197.2" y2="140.8" stroke="#111" stroke-width="0.55" />
<line x1="196.3" y1="138.04" x2="198.1" y2="138.04" stroke="#111" stroke-width="0.55" />
<line x1="196.3" y1="140.8" x2="198.1" y2="140.8" stroke="#111" stroke-width="0.55" />
<line x1="206.71" y1="133.58" x2="206.71" y2="139.1" stroke="#111" stroke-width="0.55" />
<line x1="205.81" y1="133.58" x2="207.61" y2="133.58" stroke="#111" stroke-width="0.55" />
<line x1="205.81" y1="139.1" x2="207.61" y2="139.1" stroke="#111" stroke-width="0.55" />
<line x1="219.39" y1="130.14" x2="219.39" y2="137.31" stroke="#111" stroke-width="0.55" />
<line x1="218.49" y1="130.14" x2="220.29" y2="130.14" stroke="#111" stroke-width="0.55" />
<line x1="218.49" y1="137.31" x2="220.29" y2="137.31" stroke="#111" stroke-width="0.55" />
<line x1="228.9" y1="125.27" x2="228.9" y2="135.65" stroke="#111" stroke-width="0.55" />
<line x1="228" y1="125.27" x2="229.8" y2="125.27" stroke="#111" stroke-width="0.55" />
<line x1="228" y1="135.65" x2="229.8" y2="135.65" stroke="#111" stroke-width="0.55" />
<line x1="241.58" y1="114.33" x2="241.58" y2="132.25" stroke="#111" stroke-width="0.55" />
<line x1="240.68" y1="114.33" x2="242.48" y2="114.33" stroke="#111" stroke-width="0.55" />
<line x1="240.68" y1="132.25" x2="242.48" y2="132.25" stroke="#111" stroke-width="0.55" />
<line x1="251.09" y1="106.42" x2="251.09" y2="131.33" stroke="#111" stroke-width="0.55" />
<line x1="250.19" y1="106.42" x2="251.99" y2="106.42" stroke="#111" stroke-width="0.55" />
<line x1="250.19" y1="131.33" x2="251.99" y2="131.33" stroke="#111" stroke-width="0.55" />
<line x1="263.77" y1="96.45" x2="263.77" y2="127.79" stroke="#111" stroke-width="0.55" />
<line x1="262.87" y1="96.45" x2="264.67" y2="96.45" stroke="#111" stroke-width="0.55" />
<line x1="262.87" y1="127.79" x2="264.67" y2="127.79" stroke="#111" stroke-width="0.55" />
<line x1="273.28" y1="96.27" x2="273.28" y2="123.57" stroke="#111" stroke-width="0.55" />
<line x1="272.38" y1="96.27" x2="274.18" y2="96.27" stroke="#111" stroke-width="0.55" />
<line x1="272.38" y1="123.57" x2="274.18" y2="123.57" stroke="#111" stroke-width="0.55" />
<line x1="285.96" y1="78.43" x2="285.96" y2="114.28" stroke="#111" stroke-width="0.55" />
<line x1="285.06" y1="78.43" x2="286.86" y2="78.43" stroke="#111" stroke-width="0.55" />
<line x1="285.06" y1="114.28" x2="286.86" y2="114.28" stroke="#111" stroke-width="0.55" />
<line x1="295.47" y1="63.86" x2="295.47" y2="106.15" stroke="#111" stroke-width="0.55" />
<line x1="294.57" y1="63.86" x2="296.37" y2="63.86" stroke="#111" stroke-width="0.55" />
<line x1="294.57" y1="106.15" x2="296.37" y2="106.15" stroke="#111" stroke-width="0.55" />
<line x1="308.15" y1="28.43" x2="308.15" y2="92.4" stroke="#111" stroke-width="0.55" />
<line x1="307.25" y1="28.43" x2="309.05" y2="28.43" stroke="#111" stroke-width="0.55" />
<line x1="307.25" y1="92.4" x2="309.05" y2="92.4" stroke="#111" stroke-width="0.55" />
<polyline points="197.2,139.42 206.71,136.34 219.39,133.72 228.9,130.46 241.58,123.29 251.09,118.88 263.77,112.12 273.28,109.92 285.96,96.36 295.47,85 308.15,60.42" fill="none" stroke="#111" stroke-width="0.7"/>
<circle cx="197.2" cy="139.42" r="1" fill="#111"/>
<circle cx="206.71" cy="136.34" r="1" fill="#111"/>
<circle cx="219.39" cy="133.72" r="1" fill="#111"/>
<circle cx="228.9" cy="130.46" r="1" fill="#111"/>
<circle cx="241.58" cy="123.29" r="1" fill="#111"/>
<circle cx="251.09" cy="118.88" r="1" fill="#111"/>
<circle cx="263.77" cy="112.12" r="1" fill="#111"/>
<circle cx="273.28" cy="109.92" r="1" fill="#111"/>
<circle cx="285.96" cy="96.36" r="1" fill="#111"/>
<circle cx="295.47" cy="85" r="1" fill="#111"/>
<circle cx="308.15" cy="60.42" r="1" fill="#111"/>
<line x1="197.4" y1="10.32" x2="197.4" y2="148.7" stroke="#000" stroke-width="1" />
<line x1="196.9" y1="148.2" x2="314.9" y2="148.2" stroke="#000" stroke-width="1" />
<line x1="193" y1="148.2" x2="197.4" y2="148.2" stroke="#000" stroke-width="0.9" />
<text x="192.4" y="150.1" font-size="5.3" text-anchor="end" font-weight="bold" fill="#000" >0</text>
<line x1="195" y1="143.6" x2="197.4" y2="143.6" stroke="#000" stroke-width="0.8" />
<line x1="195" y1="139.01" x2="197.4" y2="139.01" stroke="#000" stroke-width="0.8" />
<line x1="195" y1="134.41" x2="197.4" y2="134.41" stroke="#000" stroke-width="0.8" />
<line x1="195" y1="129.82" x2="197.4" y2="129.82" stroke="#000" stroke-width="0.8" />
<line x1="195" y1="125.22" x2="197.4" y2="125.22" stroke="#000" stroke-width="0.8" />
<line x1="195" y1="120.62" x2="197.4" y2="120.62" stroke="#000" stroke-width="0.8" />
<line x1="195" y1="116.03" x2="197.4" y2="116.03" stroke="#000" stroke-width="0.8" />
<line x1="195" y1="111.43" x2="197.4" y2="111.43" stroke="#000" stroke-width="0.8" />
<line x1="195" y1="106.84" x2="197.4" y2="106.84" stroke="#000" stroke-width="0.8" />
<line x1="193" y1="102.24" x2="197.4" y2="102.24" stroke="#000" stroke-width="0.9" />
<text x="192.4" y="104.14" font-size="5.3" text-anchor="end" font-weight="bold" fill="#000" >1000</text>
<line x1="195" y1="97.64" x2="197.4" y2="97.64" stroke="#000" stroke-width="0.8" />
<line x1="195" y1="93.05" x2="197.4" y2="93.05" stroke="#000" stroke-width="0.8" />
<line x1="195" y1="88.45" x2="197.4" y2="88.45" stroke="#000" stroke-width="0.8" />
<line x1="195" y1="83.86" x2="197.4" y2="83.86" stroke="#000" stroke-width="0.8" />
<line x1="195" y1="79.26" x2="197.4" y2="79.26" stroke="#000" stroke-width="0.8" />
<line x1="195" y1="74.66" x2="197.4" y2="74.66" stroke="#000" stroke-width="0.8" />
<line x1="195" y1="70.07" x2="197.4" y2="70.07" stroke="#000" stroke-width="0.8" />
<line x1="195" y1="65.47" x2="197.4" y2="65.47" stroke="#000" stroke-width="0.8" />
<line x1="195" y1="60.88" x2="197.4" y2="60.88" stroke="#000" stroke-width="0.8" />
<line x1="193" y1="56.28" x2="197.4" y2="56.28" stroke="#000" stroke-width="0.9" />
<text x="192.4" y="58.18" font-size="5.3" text-anchor="end" font-weight="bold" fill="#000" >2000</text>
<line x1="195" y1="51.68" x2="197.4" y2="51.68" stroke="#000" stroke-width="0.8" />
<line x1="195" y1="47.09" x2="197.4" y2="47.09" stroke="#000" stroke-width="0.8" />
<line x1="195" y1="42.49" x2="197.4" y2="42.49" stroke="#000" stroke-width="0.8" />
<line x1="195" y1="37.9" x2="197.4" y2="37.9" stroke="#000" stroke-width="0.8" />
<line x1="195" y1="33.3" x2="197.4" y2="33.3" stroke="#000" stroke-width="0.8" />
<line x1="195" y1="28.7" x2="197.4" y2="28.7" stroke="#000" stroke-width="0.8" />
<line x1="195" y1="24.11" x2="197.4" y2="24.11" stroke="#000" stroke-width="0.8" />
<line x1="195" y1="19.51" x2="197.4" y2="19.51" stroke="#000" stroke-width="0.8" />
<line x1="195" y1="14.92" x2="197.4" y2="14.92" stroke="#000" stroke-width="0.8" />
<line x1="193" y1="10.32" x2="197.4" y2="10.32" stroke="#000" stroke-width="0.9" />
<text x="192.4" y="12.22" font-size="5.3" text-anchor="end" font-weight="bold" fill="#000" >3000</text>
<line x1="198.26" y1="148.2" x2="198.26" y2="150" stroke="#000" stroke-width="0.8" />
<line x1="200.9" y1="148.2" x2="200.9" y2="150" stroke="#000" stroke-width="0.8" />
<line x1="203.54" y1="148.2" x2="203.54" y2="150" stroke="#000" stroke-width="0.8" />
<line x1="206.18" y1="148.2" x2="206.18" y2="150" stroke="#000" stroke-width="0.8" />
<line x1="208.82" y1="148.2" x2="208.82" y2="150" stroke="#000" stroke-width="0.8" />
<line x1="211.46" y1="148.2" x2="211.46" y2="150" stroke="#000" stroke-width="0.8" />
<line x1="214.11" y1="148.2" x2="214.11" y2="150" stroke="#000" stroke-width="0.8" />
<line x1="216.75" y1="148.2" x2="216.75" y2="150" stroke="#000" stroke-width="0.8" />
<line x1="219.39" y1="148.2" x2="219.39" y2="151.4" stroke="#000" stroke-width="0.9" />
<text x="219.39" y="158" font-size="5.5" text-anchor="middle" font-weight="bold" fill="#000" >70</text>
<line x1="222.03" y1="148.2" x2="222.03" y2="150" stroke="#000" stroke-width="0.8" />
<line x1="224.67" y1="148.2" x2="224.67" y2="150" stroke="#000" stroke-width="0.8" />
<line x1="227.31" y1="148.2" x2="227.31" y2="150" stroke="#000" stroke-width="0.8" />
<line x1="229.96" y1="148.2" x2="229.96" y2="150" stroke="#000" stroke-width="0.8" />
<line x1="232.6" y1="148.2" x2="232.6" y2="150" stroke="#000" stroke-width="0.8" />
<line x1="235.24" y1="148.2" x2="235.24" y2="150" stroke="#000" stroke-width="0.8" />
<line x1="237.88" y1="148.2" x2="237.88" y2="150" stroke="#000" stroke-width="0.8" />
<line x1="240.52" y1="148.2" x2="240.52" y2="150" stroke="#000" stroke-width="0.8" />
<line x1="243.16" y1="148.2" x2="243.16" y2="150" stroke="#000" stroke-width="0.8" />
<line x1="245.81" y1="148.2" x2="245.81" y2="150" stroke="#000" stroke-width="0.8" />
<line x1="248.45" y1="148.2" x2="248.45" y2="150" stroke="#000" stroke-width="0.8" />
<line x1="251.09" y1="148.2" x2="251.09" y2="151.4" stroke="#000" stroke-width="0.9" />
<text x="251.09" y="158" font-size="5.5" text-anchor="middle" font-weight="bold" fill="#000" >80</text>
<line x1="253.73" y1="148.2" x2="253.73" y2="150" stroke="#000" stroke-width="0.8" />
<line x1="256.37" y1="148.2" x2="256.37" y2="150" stroke="#000" stroke-width="0.8" />
<line x1="259.01" y1="148.2" x2="259.01" y2="150" stroke="#000" stroke-width="0.8" />
<line x1="261.66" y1="148.2" x2="261.66" y2="150" stroke="#000" stroke-width="0.8" />
<line x1="264.3" y1="148.2" x2="264.3" y2="150" stroke="#000" stroke-width="0.8" />
<line x1="266.94" y1="148.2" x2="266.94" y2="150" stroke="#000" stroke-width="0.8" />
<line x1="269.58" y1="148.2" x2="269.58" y2="150" stroke="#000" stroke-width="0.8" />
<line x1="272.22" y1="148.2" x2="272.22" y2="150" stroke="#000" stroke-width="0.8" />
<line x1="274.87" y1="148.2" x2="274.87" y2="150" stroke="#000" stroke-width="0.8" />
<line x1="277.51" y1="148.2" x2="277.51" y2="150" stroke="#000" stroke-width="0.8" />
<line x1="280.15" y1="148.2" x2="280.15" y2="150" stroke="#000" stroke-width="0.8" />
<line x1="282.79" y1="148.2" x2="282.79" y2="151.4" stroke="#000" stroke-width="0.9" />
<text x="282.79" y="158" font-size="5.5" text-anchor="middle" font-weight="bold" fill="#000" >90</text>
<line x1="285.43" y1="148.2" x2="285.43" y2="150" stroke="#000" stroke-width="0.8" />
<line x1="288.07" y1="148.2" x2="288.07" y2="150" stroke="#000" stroke-width="0.8" />
<line x1="290.71" y1="148.2" x2="290.71" y2="150" stroke="#000" stroke-width="0.8" />
<line x1="293.36" y1="148.2" x2="293.36" y2="150" stroke="#000" stroke-width="0.8" />
<line x1="296" y1="148.2" x2="296" y2="150" stroke="#000" stroke-width="0.8" />
<line x1="298.64" y1="148.2" x2="298.64" y2="150" stroke="#000" stroke-width="0.8" />
<line x1="301.28" y1="148.2" x2="301.28" y2="150" stroke="#000" stroke-width="0.8" />
<line x1="303.92" y1="148.2" x2="303.92" y2="150" stroke="#000" stroke-width="0.8" />
<line x1="306.56" y1="148.2" x2="306.56" y2="150" stroke="#000" stroke-width="0.8" />
<line x1="309.21" y1="148.2" x2="309.21" y2="150" stroke="#000" stroke-width="0.8" />
<line x1="311.85" y1="148.2" x2="311.85" y2="150" stroke="#000" stroke-width="0.8" />
<line x1="314.49" y1="148.2" x2="314.49" y2="151.4" stroke="#000" stroke-width="0.9" />
<text x="314.49" y="158" font-size="5.5" text-anchor="middle" font-weight="bold" fill="#000" >100</text>
<text x="256" y="167.9" font-size="6.3" text-anchor="middle" font-weight="bold" fill="#000" >Days</text>
<line x1="311" y1="60.6" x2="319.7" y2="60.6" stroke="#111" stroke-width="0.8" />
<circle cx="315.3" cy="60.6" r="1.0" fill="#111"/>
<text x="324.2" y="62.9" font-size="6.5" text-anchor="start" font-weight="normal" fill="#222" >Control (0.5% CMC)</text>
<line x1="311" y1="107.4" x2="319.7" y2="107.4" stroke="#c81e1e" stroke-width="0.8" />
<circle cx="315.3" cy="107.4" r="1.0" fill="#c81e1e"/>
<text x="324.2" y="109.7" font-size="6.5" text-anchor="start" font-weight="normal" fill="#222" >20 mg/kg Afatinib</text>
<line x1="311" y1="116.1" x2="319.7" y2="116.1" stroke="#2e8b2e" stroke-width="0.8" />
<circle cx="315.3" cy="116.1" r="1.0" fill="#2e8b2e"/>
<text x="324.2" y="118.4" font-size="6.5" text-anchor="start" font-weight="normal" fill="#222" >20 mg/kg Alpelisib</text>
<line x1="311" y1="125.1" x2="319.7" y2="125.1" stroke="#2b2bf0" stroke-width="0.8" />
<circle cx="315.3" cy="125.1" r="1.0" fill="#2b2bf0"/>
<text x="324.2" y="127.4" font-size="6.5" text-anchor="start" font-weight="normal" fill="#222" >Afatinib and Alpelisib</text>
<line x1="478.65" y1="36.84" x2="478.65" y2="55.31" stroke="#444" stroke-width="0.7" />
<line x1="476.45" y1="36.84" x2="480.85" y2="36.84" stroke="#444" stroke-width="0.8" />
<rect x="474.9" y="55.31" width="7.5" height="62.89" fill="#777" stroke="#000" stroke-width="1"/>
<line x1="491.75" y1="111" x2="491.75" y2="112.8" stroke="#444" stroke-width="0.7" />
<line x1="489.55" y1="111" x2="493.95" y2="111" stroke="#444" stroke-width="0.8" />
<rect x="487.7" y="112.8" width="8.1" height="5.4" fill="#a3a3a3" stroke="#000" stroke-width="1"/>
<line x1="504.45" y1="71.04" x2="504.45" y2="77.7" stroke="#444" stroke-width="0.7" />
<line x1="502.25" y1="71.04" x2="506.65" y2="71.04" stroke="#444" stroke-width="0.8" />
<rect x="500.5" y="77.7" width="7.9" height="40.5" fill="#777" stroke="#000" stroke-width="1"/>
<line x1="516.9" y1="96.6" x2="516.9" y2="101.82" stroke="#444" stroke-width="0.7" />
<line x1="514.7" y1="96.6" x2="519.1" y2="96.6" stroke="#444" stroke-width="0.8" />
<rect x="513.2" y="101.82" width="7.4" height="16.38" fill="#d8d8d8" stroke="#000" stroke-width="1"/>
<line x1="470.7" y1="28.2" x2="470.7" y2="118.2" stroke="#000" stroke-width="1" />
<line x1="470.7" y1="118.2" x2="522.5" y2="118.2" stroke="#000" stroke-width="1" />
<line x1="466.7" y1="118.2" x2="470.7" y2="118.2" stroke="#000" stroke-width="0.9" />
<text x="465.6" y="120.3" font-size="6.2" text-anchor="end" font-weight="bold" fill="#000" >0.0</text>
<line x1="466.7" y1="100.2" x2="470.7" y2="100.2" stroke="#000" stroke-width="0.9" />
<text x="465.6" y="102.3" font-size="6.2" text-anchor="end" font-weight="bold" fill="#000" >0.5</text>
<line x1="466.7" y1="82.2" x2="470.7" y2="82.2" stroke="#000" stroke-width="0.9" />
<text x="465.6" y="84.3" font-size="6.2" text-anchor="end" font-weight="bold" fill="#000" >1.0</text>
<line x1="466.7" y1="64.2" x2="470.7" y2="64.2" stroke="#000" stroke-width="0.9" />
<text x="465.6" y="66.3" font-size="6.2" text-anchor="end" font-weight="bold" fill="#000" >1.5</text>
<line x1="466.7" y1="46.2" x2="470.7" y2="46.2" stroke="#000" stroke-width="0.9" />
<text x="465.6" y="48.3" font-size="6.2" text-anchor="end" font-weight="bold" fill="#000" >2.0</text>
<line x1="466.7" y1="28.2" x2="470.7" y2="28.2" stroke="#000" stroke-width="0.9" />
<text x="465.6" y="30.3" font-size="6.2" text-anchor="end" font-weight="bold" fill="#000" >2.5</text>
<line x1="478.6" y1="118.2" x2="478.6" y2="122.1" stroke="#000" stroke-width="0.9" />
<line x1="491.4" y1="118.2" x2="491.4" y2="122.1" stroke="#000" stroke-width="0.9" />
<line x1="504.3" y1="118.2" x2="504.3" y2="122.1" stroke="#000" stroke-width="0.9" />
<line x1="516.9" y1="118.2" x2="516.9" y2="122.1" stroke="#000" stroke-width="0.9" />
<text x="0" y="0" font-size="7.4" font-weight="bold" text-anchor="middle" transform="translate(451.3 72.9) rotate(-90)">pEGFR/EGFR</text>
<text x="0" y="0" font-size="6.75" font-weight="bold" text-anchor="end" transform="translate(480.3 129.4) rotate(-45)">Control (0.5% CMC)</text>
<text x="0" y="0" font-size="6.75" font-weight="bold" text-anchor="end" transform="translate(493.1 129.4) rotate(-45)">Afatinib (20 mg/kg)</text>
<text x="0" y="0" font-size="6.75" font-weight="bold" text-anchor="end" transform="translate(506 129.4) rotate(-45)">Alpelisib (20 mg/kg)</text>
<text x="0" y="0" font-size="6.75" font-weight="bold" text-anchor="end" transform="translate(518.6 129.4) rotate(-45)">Combination</text>
<polyline points="478.3,19.4 478.3,15.6 517.5,15.6 517.5,19.4" fill="none" stroke="#111" stroke-width="0.8"/>
<text x="497.3" y="17.6" font-size="7" text-anchor="middle" font-weight="bold" fill="#000" >*</text>
<polyline points="478.3,27.5 478.3,23.4 504.2,23.4 504.2,27.5" fill="none" stroke="#111" stroke-width="0.8"/>
<text x="491.7" y="23" font-size="5.6" text-anchor="middle" font-weight="normal" fill="#000" >n.s</text>
<polyline points="478.3,34.6 478.3,30.9 488.5,30.9 488.5,34.6" fill="none" stroke="#111" stroke-width="0.8"/>
<text x="483.9" y="32.8" font-size="7" text-anchor="middle" font-weight="bold" fill="#000" >*</text>
<polyline points="492.4,63.5 492.4,59.5 517.6,59.5 517.6,63.5" fill="none" stroke="#111" stroke-width="0.8"/>
<text x="503.7" y="58.2" font-size="5.6" text-anchor="middle" font-weight="normal" fill="#000" >n.s</text>
<polyline points="504.3,70.2 504.3,66.4 517.6,66.4 517.6,70.2" fill="none" stroke="#111" stroke-width="0.8"/>
<text x="511.9" y="67.4" font-size="7" text-anchor="middle" font-weight="bold" fill="#000" >*</text>
<line x1="599.5" y1="46.5" x2="599.5" y2="47.88" stroke="#444" stroke-width="0.7" />
<line x1="597.3" y1="46.5" x2="601.7" y2="46.5" stroke="#444" stroke-width="0.8" />
<rect x="596.2" y="47.88" width="6.6" height="61.02" fill="#777" stroke="#000" stroke-width="1"/>
<line x1="610.6" y1="51.9" x2="610.6" y2="62.88" stroke="#444" stroke-width="0.7" />
<line x1="608.4" y1="51.9" x2="612.8" y2="51.9" stroke="#444" stroke-width="0.8" />
<rect x="607.2" y="62.88" width="6.8" height="46.02" fill="#a3a3a3" stroke="#000" stroke-width="1"/>
<line x1="621.4" y1="81.3" x2="621.4" y2="89.28" stroke="#444" stroke-width="0.7" />
<line x1="619.2" y1="81.3" x2="623.6" y2="81.3" stroke="#444" stroke-width="0.8" />
<rect x="618.1" y="89.28" width="6.6" height="19.62" fill="#666" stroke="#000" stroke-width="1"/>
<line x1="632.4" y1="72.9" x2="632.4" y2="80.4" stroke="#444" stroke-width="0.7" />
<line x1="630.2" y1="72.9" x2="634.6" y2="72.9" stroke="#444" stroke-width="0.8" />
<rect x="629.1" y="80.4" width="6.6" height="28.5" fill="#d8d8d8" stroke="#000" stroke-width="1"/>
<line x1="592.1" y1="18.9" x2="592.1" y2="108.9" stroke="#000" stroke-width="1" />
<line x1="592.1" y1="108.9" x2="639.8" y2="108.9" stroke="#000" stroke-width="1" />
<line x1="588.1" y1="108.9" x2="592.1" y2="108.9" stroke="#000" stroke-width="0.9" />
<text x="587.9" y="111" font-size="6.2" text-anchor="end" font-weight="bold" fill="#000" >0.0</text>
<line x1="588.1" y1="78.9" x2="592.1" y2="78.9" stroke="#000" stroke-width="0.9" />
<text x="587.9" y="81" font-size="6.2" text-anchor="end" font-weight="bold" fill="#000" >0.5</text>
<line x1="588.1" y1="48.9" x2="592.1" y2="48.9" stroke="#000" stroke-width="0.9" />
<text x="587.9" y="51" font-size="6.2" text-anchor="end" font-weight="bold" fill="#000" >1.0</text>
<line x1="588.1" y1="18.9" x2="592.1" y2="18.9" stroke="#000" stroke-width="0.9" />
<text x="587.9" y="21" font-size="6.2" text-anchor="end" font-weight="bold" fill="#000" >1.5</text>
<line x1="599.2" y1="108.9" x2="599.2" y2="112.8" stroke="#000" stroke-width="0.9" />
<line x1="610.4" y1="108.9" x2="610.4" y2="112.8" stroke="#000" stroke-width="0.9" />
<line x1="621.5" y1="108.9" x2="621.5" y2="112.8" stroke="#000" stroke-width="0.9" />
<line x1="632.3" y1="108.9" x2="632.3" y2="112.8" stroke="#000" stroke-width="0.9" />
<text x="0" y="0" font-size="7.5" font-weight="bold" text-anchor="middle" transform="translate(572.6 63.4) rotate(-90)">pS6/S6</text>
<text x="0" y="0" font-size="6.75" font-weight="bold" text-anchor="end" transform="translate(601.6 119.6) rotate(-45)">Control (0.5% CMC)</text>
<text x="0" y="0" font-size="6.75" font-weight="bold" text-anchor="end" transform="translate(612.8 119.6) rotate(-45)">Afatinib (20 mg/kg)</text>
<text x="0" y="0" font-size="6.75" font-weight="bold" text-anchor="end" transform="translate(623.9 119.6) rotate(-45)">Alpelisib (20 mg/kg)</text>
<text x="0" y="0" font-size="6.75" font-weight="bold" text-anchor="end" transform="translate(634.7 119.6) rotate(-45)">Combination</text>
<text x="621.5" y="82.6" font-size="6.6" text-anchor="middle" font-weight="bold" fill="#000" >**</text>
<text x="632.3" y="74.4" font-size="6.6" text-anchor="middle" font-weight="bold" fill="#000" >**</text>
<line x1="126" y1="196.84" x2="126" y2="218.64" stroke="#444" stroke-width="0.7" />
<line x1="123.8" y1="196.84" x2="128.2" y2="196.84" stroke="#444" stroke-width="0.8" />
<rect x="122.2" y="218.64" width="7.6" height="59.46" fill="#777" stroke="#000" stroke-width="1"/>
<line x1="137.6" y1="235.9" x2="137.6" y2="250.33" stroke="#444" stroke-width="0.7" />
<line x1="135.4" y1="235.9" x2="139.8" y2="235.9" stroke="#444" stroke-width="0.8" />
<rect x="134" y="250.33" width="7.2" height="27.77" fill="#a3a3a3" stroke="#000" stroke-width="1"/>
<line x1="149" y1="248.52" x2="149" y2="254.15" stroke="#444" stroke-width="0.7" />
<line x1="146.8" y1="248.52" x2="151.2" y2="248.52" stroke="#444" stroke-width="0.8" />
<rect x="145.3" y="254.15" width="7.4" height="23.95" fill="#777" stroke="#000" stroke-width="1"/>
<line x1="160.15" y1="259.63" x2="160.15" y2="262.15" stroke="#444" stroke-width="0.7" />
<line x1="157.95" y1="259.63" x2="162.35" y2="259.63" stroke="#444" stroke-width="0.8" />
<rect x="156.5" y="262.15" width="7.3" height="15.95" fill="#d8d8d8" stroke="#000" stroke-width="1"/>
<line x1="117.8" y1="184.8" x2="117.8" y2="278.1" stroke="#000" stroke-width="1" />
<line x1="117.8" y1="278.1" x2="169.3" y2="278.1" stroke="#000" stroke-width="1" />
<line x1="113.8" y1="278.1" x2="117.8" y2="278.1" stroke="#000" stroke-width="0.9" />
<text x="113.9" y="280.5" font-size="7" text-anchor="end" font-weight="bold" fill="#000" >0</text>
<line x1="113.8" y1="247" x2="117.8" y2="247" stroke="#000" stroke-width="0.9" />
<text x="113.9" y="249.4" font-size="7" text-anchor="end" font-weight="bold" fill="#000" >1000</text>
<line x1="113.8" y1="215.9" x2="117.8" y2="215.9" stroke="#000" stroke-width="0.9" />
<text x="113.9" y="218.3" font-size="7" text-anchor="end" font-weight="bold" fill="#000" >2000</text>
<line x1="113.8" y1="184.8" x2="117.8" y2="184.8" stroke="#000" stroke-width="0.9" />
<text x="113.9" y="187.2" font-size="7" text-anchor="end" font-weight="bold" fill="#000" >3000</text>
<line x1="126" y1="278.1" x2="126" y2="282.1" stroke="#000" stroke-width="0.9" />
<line x1="137.6" y1="278.1" x2="137.6" y2="282.1" stroke="#000" stroke-width="0.9" />
<line x1="148.8" y1="278.1" x2="148.8" y2="282.1" stroke="#000" stroke-width="0.9" />
<line x1="160.4" y1="278.1" x2="160.4" y2="282.1" stroke="#000" stroke-width="0.9" />
<text x="0" y="0" font-size="7.8" font-weight="bold" text-anchor="middle" transform="translate(91.8 230.4) rotate(-90)">Tumor Volume (mm^3)</text>
<text x="0" y="0" font-size="7.2" font-weight="bold" text-anchor="end" transform="translate(128.3 288.4) rotate(-45)">Control (0.5% CMC)</text>
<text x="0" y="0" font-size="7.2" font-weight="bold" text-anchor="end" transform="translate(139.9 288.4) rotate(-45)">Afatinib (20 mg/kg)</text>
<text x="0" y="0" font-size="7.2" font-weight="bold" text-anchor="end" transform="translate(151.1 288.4) rotate(-45)">Alpelisib (20 mg/kg)</text>
<text x="0" y="0" font-size="7.2" font-weight="bold" text-anchor="end" transform="translate(162.7 288.4) rotate(-45)">Combination</text>
<text x="160.4" y="259.6" font-size="7" text-anchor="middle" font-weight="bold" fill="#000" >*</text>
<g filter="url(#bgblur)">
<rect x="428" y="201.5" width="246" height="15.5" fill="#f8f8f8"/>
<rect x="425" y="238.3" width="260" height="16" fill="#f3f3f3"/>
</g>
<text x="438.3" y="195.8" font-size="5.3" fill="#000" stroke="#000" stroke-width="0.1" textLength="43.6" lengthAdjust="spacingAndGlyphs">Control (0.5% CMC)</text>
<line x1="432.6" y1="198.2" x2="489.5" y2="198.2" stroke="#444" stroke-width="0.9" />
<text x="499.3" y="195.8" font-size="5.3" fill="#000" stroke="#000" stroke-width="0.1" textLength="39.1" lengthAdjust="spacingAndGlyphs">Afatinib (20mg/kg)</text>
<line x1="491.7" y1="198.2" x2="548.9" y2="198.2" stroke="#444" stroke-width="0.9" />
<text x="555.9" y="195.8" font-size="5.3" fill="#000" stroke="#000" stroke-width="0.1" textLength="42.2" lengthAdjust="spacingAndGlyphs">Alpelisib (20 mg/kg)</text>
<line x1="552.2" y1="198.2" x2="608.8" y2="198.2" stroke="#444" stroke-width="0.9" />
<text x="625.9" y="195.8" font-size="5.3" fill="#000" stroke="#000" stroke-width="0.1" textLength="28.1" lengthAdjust="spacingAndGlyphs">Combination</text>
<line x1="613.8" y1="198.2" x2="670.9" y2="198.2" stroke="#444" stroke-width="0.9" />
<text x="411.8" y="210.1" font-size="5.6" fill="#000" textLength="15.1" lengthAdjust="spacingAndGlyphs">pEGFR</text>
<text x="411.8" y="228.6" font-size="5.6" fill="#000" textLength="12" lengthAdjust="spacingAndGlyphs">EGFR</text>
<text x="411.8" y="246.3" font-size="5.6" fill="#000" textLength="7.3" lengthAdjust="spacingAndGlyphs">pS6</text>
<text x="411.8" y="265" font-size="5.6" fill="#000" textLength="5.8" lengthAdjust="spacingAndGlyphs">S6</text>
<text x="411.8" y="283.3" font-size="5.6" fill="#000" textLength="15.6" lengthAdjust="spacingAndGlyphs">HSC70</text>
<g filter="url(#bandblur)">
<polygon points="432.7,207.6 433.6,206.0 434.4,205.7 435.3,205.6 436.1,205.6 437.0,205.6 437.8,205.6 438.7,205.6 439.6,205.6 440.4,205.6 441.3,205.6 442.1,205.6 443.0,205.7 443.8,206.0 444.7,207.6 444.7,207.6 443.8,209.2 443.0,209.5 442.1,209.6 441.3,209.6 440.4,209.6 439.6,209.6 438.7,209.6 437.8,209.6 437.0,209.6 436.1,209.6 435.3,209.6 434.4,209.5 433.6,209.2 432.7,207.6" fill="rgb(0,0,0)"/>
<polygon points="445.5,207.6 446.5,206.0 447.4,205.7 448.4,205.6 449.4,205.6 450.3,205.6 451.3,205.6 452.2,205.6 453.2,205.6 454.2,205.6 455.1,205.6 456.1,205.6 457.1,205.7 458.0,206.0 459.0,207.6 459.0,207.6 458.0,209.2 457.1,209.5 456.1,209.6 455.1,209.6 454.2,209.6 453.2,209.6 452.2,209.6 451.3,209.6 450.3,209.6 449.4,209.6 448.4,209.6 447.4,209.5 446.5,209.2 445.5,207.6" fill="rgb(6,6,6)"/>
<polygon points="460.3,207.8 461.3,206.2 462.3,205.9 463.3,205.8 464.2,205.8 465.2,205.8 466.2,205.8 467.2,205.8 468.2,205.8 469.2,205.8 470.2,205.8 471.1,205.8 472.1,205.9 473.1,206.2 474.1,207.8 474.1,207.8 473.1,209.4 472.1,209.7 471.1,209.8 470.2,209.8 469.2,209.8 468.2,209.8 467.2,209.8 466.2,209.8 465.2,209.8 464.2,209.8 463.3,209.8 462.3,209.7 461.3,209.4 460.3,207.8" fill="rgb(35,35,35)"/>
<polygon points="475.5,208.2 476.5,206.8 477.6,206.5 478.6,206.5 479.7,206.5 480.7,206.5 481.8,206.5 482.8,206.4 483.8,206.5 484.9,206.5 485.9,206.5 487.0,206.5 488.0,206.5 489.1,206.8 490.1,208.2 490.1,208.2 489.1,209.6 488.0,209.9 487.0,209.9 485.9,209.9 484.9,209.9 483.8,209.9 482.8,209.9 481.8,209.9 480.7,209.9 479.7,209.9 478.6,209.9 477.6,209.9 476.5,209.6 475.5,208.2" fill="rgb(198,198,198)"/>
<polygon points="491.5,208.0 492.4,206.6 493.3,206.3 494.3,206.3 495.2,206.3 496.1,206.3 497.0,206.3 498.0,206.2 498.9,206.3 499.8,206.3 500.7,206.3 501.6,206.3 502.6,206.3 503.5,206.6 504.4,208.0 504.4,208.0 503.5,209.4 502.6,209.7 501.6,209.7 500.7,209.7 499.8,209.7 498.9,209.7 498.0,209.8 497.0,209.7 496.1,209.7 495.2,209.7 494.3,209.7 493.3,209.7 492.4,209.4 491.5,208.0" fill="rgb(209,209,209)"/>
<polygon points="505.7,208.0 506.7,206.6 507.7,206.3 508.7,206.3 509.6,206.3 510.6,206.3 511.6,206.3 512.6,206.2 513.6,206.3 514.6,206.3 515.6,206.3 516.5,206.3 517.5,206.3 518.5,206.6 519.5,208.0 519.5,208.0 518.5,209.4 517.5,209.7 516.5,209.7 515.6,209.7 514.6,209.7 513.6,209.7 512.6,209.8 511.6,209.7 510.6,209.7 509.6,209.7 508.7,209.7 507.7,209.7 506.7,209.4 505.7,208.0" fill="rgb(205,205,205)"/>
<polygon points="521.0,208.0 521.9,206.6 522.9,206.3 523.8,206.3 524.8,206.3 525.7,206.3 526.7,206.3 527.6,206.2 528.5,206.3 529.5,206.3 530.4,206.3 531.4,206.3 532.3,206.3 533.3,206.6 534.2,208.0 534.2,208.0 533.3,209.4 532.3,209.7 531.4,209.7 530.4,209.7 529.5,209.7 528.5,209.7 527.6,209.8 526.7,209.7 525.7,209.7 524.8,209.7 523.8,209.7 522.9,209.7 521.9,209.4 521.0,208.0" fill="rgb(221,221,221)"/>
<polygon points="538.3,208.0 539.2,206.8 540.0,206.6 540.9,206.5 541.7,206.5 542.6,206.5 543.4,206.5 544.3,206.5 545.2,206.5 546.0,206.5 546.9,206.5 547.7,206.5 548.6,206.6 549.4,206.8 550.3,208.0 550.3,208.0 549.4,209.2 548.6,209.4 547.7,209.5 546.9,209.5 546.0,209.5 545.2,209.5 544.3,209.5 543.4,209.5 542.6,209.5 541.7,209.5 540.9,209.5 540.0,209.4 539.2,209.2 538.3,208.0" fill="rgb(239,239,239)"/>
<polygon points="551.6,208.8 552.6,207.0 553.6,206.7 554.7,206.6 555.7,206.6 556.7,206.6 557.7,206.6 558.8,206.6 559.8,206.6 560.8,206.6 561.8,206.6 562.8,206.6 563.9,206.7 564.9,207.0 565.9,208.8 565.9,208.8 564.9,210.6 563.9,210.9 562.8,211.0 561.8,211.0 560.8,211.0 559.8,211.0 558.8,211.1 557.7,211.0 556.7,211.0 555.7,211.0 554.7,211.0 553.6,210.9 552.6,210.6 551.6,208.8" fill="rgb(0,0,0)"/>
<polygon points="567.6,209.2 568.6,207.8 569.6,207.5 570.6,207.5 571.5,207.5 572.5,207.5 573.5,207.5 574.5,207.4 575.5,207.5 576.5,207.5 577.5,207.5 578.4,207.5 579.4,207.5 580.4,207.8 581.4,209.2 581.4,209.2 580.4,210.6 579.4,210.9 578.4,210.9 577.5,210.9 576.5,210.9 575.5,210.9 574.5,210.9 573.5,210.9 572.5,210.9 571.5,210.9 570.6,210.9 569.6,210.9 568.6,210.6 567.6,209.2" fill="rgb(186,186,186)"/>
<polygon points="582.8,209.0 583.8,206.8 584.9,206.4 585.9,206.3 587.0,206.3 588.0,206.3 589.1,206.3 590.1,206.2 591.1,206.3 592.2,206.3 593.2,206.3 594.3,206.3 595.3,206.4 596.4,206.8 597.4,209.0 597.4,209.0 596.4,211.2 595.3,211.6 594.3,211.7 593.2,211.7 592.2,211.7 591.1,211.7 590.1,211.8 589.1,211.7 588.0,211.7 587.0,211.7 585.9,211.7 584.9,211.6 583.8,211.2 582.8,209.0" fill="rgb(0,0,0)"/>
<polygon points="598.8,209.2 599.7,207.6 600.6,207.3 601.6,207.2 602.5,207.2 603.4,207.2 604.3,207.2 605.2,207.2 606.2,207.2 607.1,207.2 608.0,207.2 608.9,207.2 609.9,207.3 610.8,207.6 611.7,209.2 611.7,209.2 610.8,210.8 609.9,211.1 608.9,211.2 608.0,211.2 607.1,211.2 606.2,211.2 605.2,211.2 604.3,211.2 603.4,211.2 602.5,211.2 601.6,211.2 600.6,211.1 599.7,210.8 598.8,209.2" fill="rgb(140,140,140)"/>
<polygon points="614.9,209.0 615.9,207.6 616.9,207.3 617.9,207.3 618.9,207.3 619.9,207.3 620.9,207.3 621.9,207.2 622.8,207.3 623.8,207.3 624.8,207.3 625.8,207.3 626.8,207.3 627.8,207.6 628.8,209.0 628.8,209.0 627.8,210.4 626.8,210.7 625.8,210.7 624.8,210.7 623.8,210.7 622.8,210.7 621.9,210.8 620.9,210.7 619.9,210.7 618.9,210.7 617.9,210.7 616.9,210.7 615.9,210.4 614.9,209.0" fill="rgb(241,241,241)"/>
<polygon points="630.5,208.6 631.5,207.2 632.4,206.9 633.4,206.9 634.3,206.9 635.3,206.9 636.2,206.9 637.2,206.8 638.2,206.9 639.1,206.9 640.1,206.9 641.0,206.9 642.0,206.9 642.9,207.2 643.9,208.6 643.9,208.6 642.9,210.0 642.0,210.3 641.0,210.3 640.1,210.3 639.1,210.3 638.2,210.3 637.2,210.3 636.2,210.3 635.3,210.3 634.3,210.3 633.4,210.3 632.4,210.3 631.5,210.0 630.5,208.6" fill="rgb(232,232,232)"/>
<polygon points="645.8,208.2 646.8,206.8 647.7,206.5 648.7,206.5 649.6,206.5 650.6,206.5 651.5,206.5 652.5,206.4 653.4,206.5 654.4,206.5 655.3,206.5 656.2,206.5 657.2,206.5 658.2,206.8 659.1,208.2 659.1,208.2 658.2,209.6 657.2,209.9 656.2,209.9 655.3,209.9 654.4,209.9 653.4,209.9 652.5,209.9 651.5,209.9 650.6,209.9 649.6,209.9 648.7,209.9 647.7,209.9 646.8,209.6 645.8,208.2" fill="rgb(221,221,221)"/>
<polygon points="661.3,208.4 662.2,207.0 663.1,206.7 664.1,206.7 665.0,206.7 665.9,206.7 666.8,206.7 667.8,206.7 668.7,206.7 669.6,206.7 670.5,206.7 671.4,206.7 672.4,206.7 673.3,207.0 674.2,208.4 674.2,208.4 673.3,209.8 672.4,210.1 671.4,210.1 670.5,210.1 669.6,210.1 668.7,210.1 667.8,210.2 666.8,210.1 665.9,210.1 665.0,210.1 664.1,210.1 663.1,210.1 662.2,209.8 661.3,208.4" fill="rgb(227,227,227)"/>
<polygon points="432.4,226.4 433.3,224.8 434.2,224.5 435.2,224.4 436.1,224.4 437.0,224.4 437.9,224.4 438.9,224.4 439.8,224.4 440.7,224.4 441.6,224.4 442.5,224.4 443.5,224.5 444.4,224.8 445.3,226.4 445.3,226.4 444.4,228.0 443.5,228.3 442.5,228.4 441.6,228.4 440.7,228.4 439.8,228.4 438.9,228.4 437.9,228.4 437.0,228.4 436.1,228.4 435.2,228.4 434.2,228.3 433.3,228.0 432.4,226.4" fill="rgb(0,0,0)"/>
<polygon points="446.9,227.5 447.9,226.1 448.9,225.8 449.9,225.8 451.0,225.8 452.0,225.8 453.0,225.8 454.0,225.8 455.0,225.8 456.0,225.8 457.0,225.8 458.1,225.8 459.1,225.8 460.1,226.1 461.1,227.5 461.1,227.5 460.1,228.9 459.1,229.2 458.1,229.2 457.0,229.2 456.0,229.2 455.0,229.2 454.0,229.2 453.0,229.2 452.0,229.2 451.0,229.2 449.9,229.2 448.9,229.2 447.9,228.9 446.9,227.5" fill="rgb(163,163,163)"/>
<polygon points="461.9,227.3 462.8,225.9 463.8,225.6 464.7,225.6 465.7,225.6 466.6,225.6 467.6,225.6 468.5,225.6 469.4,225.6 470.4,225.6 471.3,225.6 472.3,225.6 473.2,225.6 474.2,225.9 475.1,227.3 475.1,227.3 474.2,228.7 473.2,229.0 472.3,229.0 471.3,229.0 470.4,229.0 469.4,229.0 468.5,229.1 467.6,229.0 466.6,229.0 465.7,229.0 464.7,229.0 463.8,229.0 462.8,228.7 461.9,227.3" fill="rgb(94,94,94)"/>
<polygon points="476.9,227.5 477.9,225.5 478.9,225.1 479.9,225.0 481.0,225.0 482.0,225.0 483.0,225.0 484.0,225.0 485.0,225.0 486.0,225.0 487.0,225.0 488.1,225.0 489.1,225.1 490.1,225.5 491.1,227.5 491.1,227.5 490.1,229.5 489.1,229.9 488.1,230.0 487.0,230.0 486.0,230.0 485.0,230.0 484.0,230.0 483.0,230.0 482.0,230.0 481.0,230.0 479.9,230.0 478.9,229.9 477.9,229.5 476.9,227.5" fill="rgb(0,0,0)"/>
<polygon points="491.9,227.4 492.9,225.6 493.9,225.3 494.9,225.2 496.0,225.2 497.0,225.2 498.0,225.2 499.0,225.2 500.0,225.2 501.0,225.2 502.0,225.2 503.1,225.2 504.1,225.3 505.1,225.6 506.1,227.4 506.1,227.4 505.1,229.2 504.1,229.5 503.1,229.6 502.0,229.6 501.0,229.6 500.0,229.6 499.0,229.7 498.0,229.6 497.0,229.6 496.0,229.6 494.9,229.6 493.9,229.5 492.9,229.2 491.9,227.4" fill="rgb(0,0,0)"/>
<polygon points="506.9,227.3 508.0,225.5 509.0,225.2 510.1,225.1 511.2,225.1 512.2,225.1 513.3,225.1 514.4,225.1 515.4,225.1 516.5,225.1 517.5,225.1 518.6,225.1 519.7,225.2 520.7,225.5 521.8,227.3 521.8,227.3 520.7,229.1 519.7,229.4 518.6,229.5 517.5,229.5 516.5,229.5 515.4,229.5 514.4,229.6 513.3,229.5 512.2,229.5 511.2,229.5 510.1,229.5 509.0,229.4 508.0,229.1 506.9,227.3" fill="rgb(0,0,0)"/>
<polygon points="523.1,227.0 524.1,225.2 525.1,224.9 526.1,224.8 527.0,224.8 528.0,224.8 529.0,224.8 530.0,224.8 531.0,224.8 532.0,224.8 533.0,224.8 533.9,224.8 534.9,224.9 535.9,225.2 536.9,227.0 536.9,227.0 535.9,228.8 534.9,229.1 533.9,229.2 533.0,229.2 532.0,229.2 531.0,229.2 530.0,229.2 529.0,229.2 528.0,229.2 527.0,229.2 526.1,229.2 525.1,229.1 524.1,228.8 523.1,227.0" fill="rgb(0,0,0)"/>
<polygon points="538.3,227.2 539.3,225.8 540.2,225.5 541.2,225.5 542.1,225.5 543.1,225.5 544.0,225.5 545.0,225.4 546.0,225.5 546.9,225.5 547.9,225.5 548.8,225.5 549.8,225.5 550.7,225.8 551.7,227.2 551.7,227.2 550.7,228.6 549.8,228.9 548.8,228.9 547.9,228.9 546.9,228.9 546.0,228.9 545.0,228.9 544.0,228.9 543.1,228.9 542.1,228.9 541.2,228.9 540.2,228.9 539.3,228.6 538.3,227.2" fill="rgb(152,152,152)"/>
<polygon points="553.4,226.8 554.4,225.0 555.4,224.7 556.5,224.6 557.5,224.6 558.5,224.6 559.5,224.6 560.5,224.6 561.6,224.6 562.6,224.6 563.6,224.6 564.6,224.6 565.7,224.7 566.7,225.0 567.7,226.8 567.7,226.8 566.7,228.6 565.7,228.9 564.6,229.0 563.6,229.0 562.6,229.0 561.6,229.0 560.5,229.1 559.5,229.0 558.5,229.0 557.5,229.0 556.5,229.0 555.4,228.9 554.4,228.6 553.4,226.8" fill="rgb(0,0,0)"/>
<polygon points="568.5,227.3 569.6,225.9 570.7,225.6 571.8,225.6 572.8,225.6 573.9,225.6 575.0,225.6 576.1,225.6 577.2,225.6 578.3,225.6 579.4,225.6 580.4,225.6 581.5,225.6 582.6,225.9 583.7,227.3 583.7,227.3 582.6,228.7 581.5,229.0 580.4,229.0 579.4,229.0 578.3,229.0 577.2,229.0 576.1,229.1 575.0,229.0 573.9,229.0 572.8,229.0 571.8,229.0 570.7,229.0 569.6,228.7 568.5,227.3" fill="rgb(140,140,140)"/>
<polygon points="585.1,226.7 586.1,225.0 587.0,224.7 588.0,224.6 589.0,224.6 590.0,224.6 590.9,224.6 591.9,224.6 592.9,224.6 593.8,224.6 594.8,224.6 595.8,224.6 596.8,224.7 597.7,225.0 598.7,226.7 598.7,226.7 597.7,228.4 596.8,228.7 595.8,228.8 594.8,228.8 593.8,228.8 592.9,228.8 591.9,228.8 590.9,228.8 590.0,228.8 589.0,228.8 588.0,228.8 587.0,228.7 586.1,228.4 585.1,226.7" fill="rgb(0,0,0)"/>
<polygon points="600.1,226.3 601.1,224.9 602.0,224.6 603.0,224.6 603.9,224.6 604.9,224.6 605.8,224.6 606.8,224.6 607.8,224.6 608.7,224.6 609.7,224.6 610.6,224.6 611.6,224.6 612.5,224.9 613.5,226.3 613.5,226.3 612.5,227.7 611.6,228.0 610.6,228.0 609.7,228.0 608.7,228.0 607.8,228.0 606.8,228.1 605.8,228.0 604.9,228.0 603.9,228.0 603.0,228.0 602.0,228.0 601.1,227.7 600.1,226.3" fill="rgb(94,94,94)"/>
<polygon points="615.4,226.6 616.3,225.2 617.3,224.9 618.2,224.9 619.2,224.9 620.1,224.9 621.1,224.9 622.0,224.8 622.9,224.9 623.9,224.9 624.8,224.9 625.8,224.9 626.7,224.9 627.7,225.2 628.6,226.6 628.6,226.6 627.7,228.0 626.7,228.3 625.8,228.3 624.8,228.3 623.9,228.3 622.9,228.3 622.0,228.3 621.1,228.3 620.1,228.3 619.2,228.3 618.2,228.3 617.3,228.3 616.3,228.0 615.4,226.6" fill="rgb(152,152,152)"/>
<polygon points="616.9,231.0 617.8,229.9 618.7,229.7 619.6,229.6 620.5,229.6 621.4,229.6 622.3,229.6 623.2,229.6 624.2,229.6 625.1,229.6 626.0,229.6 626.9,229.6 627.8,229.7 628.7,229.9 629.6,231.0 629.6,231.0 628.7,232.1 627.8,232.3 626.9,232.4 626.0,232.4 625.1,232.4 624.2,232.4 623.2,232.4 622.3,232.4 621.4,232.4 620.5,232.4 619.6,232.4 618.7,232.3 617.8,232.1 616.9,231.0" fill="rgb(0,0,0)"/>
<polygon points="630.5,225.9 631.5,224.6 632.4,224.3 633.4,224.3 634.3,224.3 635.3,224.3 636.2,224.3 637.2,224.2 638.2,224.3 639.1,224.3 640.1,224.3 641.0,224.3 642.0,224.3 642.9,224.6 643.9,225.9 643.9,225.9 642.9,227.2 642.0,227.5 641.0,227.5 640.1,227.5 639.1,227.5 638.2,227.5 637.2,227.6 636.2,227.5 635.3,227.5 634.3,227.5 633.4,227.5 632.4,227.5 631.5,227.2 630.5,225.9" fill="rgb(140,140,140)"/>
<polygon points="645.8,224.8 646.8,223.4 647.7,223.1 648.7,223.1 649.6,223.1 650.6,223.1 651.5,223.1 652.5,223.1 653.4,223.1 654.4,223.1 655.3,223.1 656.2,223.1 657.2,223.1 658.2,223.4 659.1,224.8 659.1,224.8 658.2,226.2 657.2,226.5 656.2,226.5 655.3,226.5 654.4,226.5 653.4,226.5 652.5,226.6 651.5,226.5 650.6,226.5 649.6,226.5 648.7,226.5 647.7,226.5 646.8,226.2 645.8,224.8" fill="rgb(79,79,79)"/>
<polygon points="661.3,224.2 662.2,223.1 663.1,222.9 664.1,222.8 665.0,222.8 665.9,222.8 666.8,222.8 667.8,222.8 668.7,222.8 669.6,222.8 670.5,222.8 671.4,222.8 672.4,222.9 673.3,223.1 674.2,224.2 674.2,224.2 673.3,225.3 672.4,225.5 671.4,225.6 670.5,225.6 669.6,225.6 668.7,225.6 667.8,225.6 666.8,225.6 665.9,225.6 665.0,225.6 664.1,225.6 663.1,225.5 662.2,225.3 661.3,224.2" fill="rgb(198,198,198)"/>
<polygon points="433.2,248.5 434.1,246.3 435.0,245.9 435.9,245.8 436.8,245.8 437.7,245.8 438.6,245.8 439.6,245.8 440.5,245.8 441.4,245.8 442.3,245.8 443.2,245.8 444.1,245.9 445.0,246.3 445.9,248.5 445.9,248.5 445.0,250.7 444.1,251.1 443.2,251.2 442.3,251.2 441.4,251.2 440.5,251.2 439.6,251.2 438.6,251.2 437.7,251.2 436.8,251.2 435.9,251.2 435.0,251.1 434.1,250.7 433.2,248.5" fill="rgb(0,0,0)"/>
<polygon points="444.8,248.5 445.9,246.3 447.0,245.9 448.0,245.8 449.1,245.8 450.2,245.8 451.3,245.8 452.4,245.8 453.4,245.8 454.5,245.8 455.6,245.8 456.7,245.8 457.7,245.9 458.8,246.3 459.9,248.5 459.9,248.5 458.8,250.7 457.7,251.1 456.7,251.2 455.6,251.2 454.5,251.2 453.4,251.2 452.4,251.2 451.3,251.2 450.2,251.2 449.1,251.2 448.0,251.2 447.0,251.1 445.9,250.7 444.8,248.5" fill="rgb(0,0,0)"/>
<polygon points="459.1,249.3 460.2,247.5 461.3,247.2 462.4,247.1 463.5,247.1 464.6,247.1 465.7,247.1 466.8,247.1 467.8,247.1 468.9,247.1 470.0,247.1 471.1,247.1 472.2,247.2 473.3,247.5 474.4,249.3 474.4,249.3 473.3,251.1 472.2,251.4 471.1,251.5 470.0,251.5 468.9,251.5 467.8,251.5 466.8,251.6 465.7,251.5 464.6,251.5 463.5,251.5 462.4,251.5 461.3,251.4 460.2,251.1 459.1,249.3" fill="rgb(0,0,0)"/>
<polygon points="473.8,249.0 474.9,247.2 476.1,246.9 477.2,246.8 478.4,246.8 479.6,246.8 480.7,246.8 481.9,246.8 483.0,246.8 484.2,246.8 485.3,246.8 486.5,246.8 487.6,246.9 488.8,247.2 489.9,249.0 489.9,249.0 488.8,250.8 487.6,251.1 486.5,251.2 485.3,251.2 484.2,251.2 483.0,251.2 481.9,251.2 480.7,251.2 479.6,251.2 478.4,251.2 477.2,251.2 476.1,251.1 474.9,250.8 473.8,249.0" fill="rgb(0,0,0)"/>
<polygon points="489.6,247.8 490.7,245.8 491.8,245.4 493.0,245.3 494.1,245.3 495.2,245.3 496.3,245.3 497.4,245.3 498.6,245.3 499.7,245.3 500.8,245.3 501.9,245.3 503.1,245.4 504.2,245.8 505.3,247.8 505.3,247.8 504.2,249.8 503.1,250.2 501.9,250.3 500.8,250.3 499.7,250.3 498.6,250.3 497.4,250.3 496.3,250.3 495.2,250.3 494.1,250.3 493.0,250.3 491.8,250.2 490.7,249.8 489.6,247.8" fill="rgb(0,0,0)"/>
<polygon points="505.0,246.4 506.1,244.6 507.2,244.3 508.2,244.2 509.3,244.2 510.4,244.2 511.5,244.2 512.5,244.2 513.6,244.2 514.7,244.2 515.8,244.2 516.9,244.2 517.9,244.3 519.0,244.6 520.1,246.4 520.1,246.4 519.0,248.2 517.9,248.5 516.9,248.6 515.8,248.6 514.7,248.6 513.6,248.6 512.5,248.7 511.5,248.6 510.4,248.6 509.3,248.6 508.2,248.6 507.2,248.5 506.1,248.2 505.0,246.4" fill="rgb(0,0,0)"/>
<polygon points="520.5,245.0 521.6,243.0 522.7,242.6 523.9,242.5 525.0,242.5 526.1,242.5 527.2,242.5 528.4,242.5 529.5,242.5 530.6,242.5 531.7,242.5 532.8,242.5 534.0,242.6 535.1,243.0 536.2,245.0 536.2,245.0 535.1,247.0 534.0,247.4 532.8,247.5 531.7,247.5 530.6,247.5 529.5,247.5 528.4,247.5 527.2,247.5 526.1,247.5 525.0,247.5 523.9,247.5 522.7,247.4 521.6,247.0 520.5,245.0" fill="rgb(0,0,0)"/>
<polygon points="536.9,244.2 538.0,243.2 539.0,243.1 540.0,243.0 541.1,243.0 542.1,243.0 543.2,243.0 544.2,243.0 545.3,243.0 546.4,243.0 547.4,243.0 548.5,243.0 549.5,243.1 550.5,243.2 551.6,244.2 551.6,244.2 550.5,245.2 549.5,245.3 548.5,245.4 547.4,245.4 546.4,245.4 545.3,245.4 544.2,245.4 543.2,245.4 542.1,245.4 541.1,245.4 540.0,245.4 539.0,245.3 538.0,245.2 536.9,244.2" fill="rgb(209,209,209)"/>
<polygon points="553.3,243.8 554.4,242.7 555.4,242.5 556.4,242.4 557.5,242.4 558.5,242.4 559.6,242.4 560.6,242.4 561.7,242.4 562.8,242.4 563.8,242.4 564.9,242.4 565.9,242.5 566.9,242.7 568.0,243.8 568.0,243.8 566.9,244.9 565.9,245.1 564.9,245.2 563.8,245.2 562.8,245.2 561.7,245.2 560.6,245.2 559.6,245.2 558.5,245.2 557.5,245.2 556.4,245.2 555.4,245.1 554.4,244.9 553.3,243.8" fill="rgb(20,20,20)"/>
<polygon points="569.7,244.6 570.8,243.6 571.9,243.5 573.1,243.4 574.2,243.4 575.3,243.4 576.4,243.4 577.5,243.4 578.7,243.4 579.8,243.4 580.9,243.4 582.0,243.4 583.2,243.5 584.3,243.6 585.4,244.6 585.4,244.6 584.3,245.6 583.2,245.7 582.0,245.8 580.9,245.8 579.8,245.8 578.7,245.8 577.5,245.8 576.4,245.8 575.3,245.8 574.2,245.8 573.1,245.8 571.9,245.7 570.8,245.6 569.7,244.6" fill="rgb(221,221,221)"/>
<polygon points="585.9,245.6 587.0,243.5 588.1,243.1 589.3,243.0 590.4,243.0 591.5,243.0 592.6,243.0 593.8,243.0 594.9,243.0 596.0,243.0 597.1,243.0 598.2,243.0 599.4,243.1 600.5,243.5 601.6,245.6 601.6,245.6 600.5,247.7 599.4,248.1 598.2,248.2 597.1,248.2 596.0,248.2 594.9,248.2 593.8,248.2 592.6,248.2 591.5,248.2 590.4,248.2 589.3,248.2 588.1,248.1 587.0,247.7 585.9,245.6" fill="rgb(0,0,0)"/>
<polygon points="601.7,245.6 602.7,244.6 603.7,244.5 604.8,244.4 605.8,244.4 606.8,244.4 607.8,244.4 608.8,244.4 609.9,244.4 610.9,244.4 611.9,244.4 612.9,244.4 614.0,244.5 615.0,244.6 616.0,245.6 616.0,245.6 615.0,246.6 614.0,246.7 612.9,246.8 611.9,246.8 610.9,246.8 609.9,246.8 608.8,246.8 607.8,246.8 606.8,246.8 605.8,246.8 604.8,246.8 603.7,246.7 602.7,246.6 601.7,245.6" fill="rgb(186,186,186)"/>
<polygon points="617.1,245.4 618.2,244.2 619.2,244.0 620.3,243.9 621.3,243.9 622.4,243.9 623.4,243.9 624.5,243.9 625.6,243.9 626.6,243.9 627.7,243.9 628.7,243.9 629.8,244.0 630.8,244.2 631.9,245.4 631.9,245.4 630.8,246.6 629.8,246.8 628.7,246.9 627.7,246.9 626.6,246.9 625.6,246.9 624.5,246.9 623.4,246.9 622.4,246.9 621.3,246.9 620.3,246.9 619.2,246.8 618.2,246.6 617.1,245.4" fill="rgb(6,6,6)"/>
<polygon points="633.1,245.0 634.2,243.8 635.3,243.6 636.4,243.5 637.4,243.5 638.5,243.5 639.6,243.5 640.7,243.5 641.8,243.5 642.9,243.5 644.0,243.5 645.0,243.5 646.1,243.6 647.2,243.8 648.3,245.0 648.3,245.0 647.2,246.2 646.1,246.4 645.0,246.5 644.0,246.5 642.9,246.5 641.8,246.5 640.7,246.5 639.6,246.5 638.5,246.5 637.4,246.5 636.4,246.5 635.3,246.4 634.2,246.2 633.1,245.0" fill="rgb(20,20,20)"/>
<polygon points="649.2,244.8 650.1,243.3 651.1,243.1 652.0,243.0 653.0,243.0 653.9,243.0 654.9,243.0 655.8,243.0 656.7,243.0 657.7,243.0 658.6,243.0 659.6,243.0 660.5,243.1 661.5,243.3 662.4,244.8 662.4,244.8 661.5,246.3 660.5,246.5 659.6,246.6 658.6,246.6 657.7,246.6 656.7,246.6 655.8,246.6 654.9,246.6 653.9,246.6 653.0,246.6 652.0,246.6 651.1,246.5 650.1,246.3 649.2,244.8" fill="rgb(0,0,0)"/>
<polygon points="663.1,244.6 664.3,242.3 665.5,241.9 666.7,241.8 668.0,241.8 669.2,241.8 670.4,241.8 671.6,241.8 672.8,241.8 674.0,241.8 675.2,241.8 676.5,241.8 677.7,241.9 678.9,242.3 680.1,244.6 680.1,244.6 678.9,246.9 677.7,247.3 676.5,247.4 675.2,247.4 674.0,247.4 672.8,247.4 671.6,247.4 670.4,247.4 669.2,247.4 668.0,247.4 666.7,247.4 665.5,247.3 664.3,246.9 663.1,244.6" fill="rgb(0,0,0)"/>
<polygon points="431.3,261.3 432.2,259.3 433.2,258.9 434.1,258.8 435.1,258.8 436.0,258.8 437.0,258.8 437.9,258.8 438.8,258.8 439.8,258.8 440.7,258.8 441.7,258.8 442.6,258.9 443.6,259.3 444.5,261.3 444.5,261.3 443.6,263.3 442.6,263.7 441.7,263.8 440.7,263.8 439.8,263.8 438.8,263.8 437.9,263.8 437.0,263.8 436.0,263.8 435.1,263.8 434.1,263.8 433.2,263.7 432.2,263.3 431.3,261.3" fill="rgb(0,0,0)"/>
<polygon points="443.7,262.6 444.8,260.8 445.9,260.5 447.0,260.4 448.1,260.4 449.2,260.4 450.3,260.4 451.4,260.4 452.4,260.4 453.5,260.4 454.6,260.4 455.7,260.4 456.8,260.5 457.9,260.8 459.0,262.6 459.0,262.6 457.9,264.4 456.8,264.7 455.7,264.8 454.6,264.8 453.5,264.8 452.4,264.8 451.4,264.9 450.3,264.8 449.2,264.8 448.1,264.8 447.0,264.8 445.9,264.7 444.8,264.4 443.7,262.6" fill="rgb(0,0,0)"/>
<polygon points="458.7,263.6 459.8,262.0 460.9,261.7 462.1,261.6 463.2,261.6 464.3,261.6 465.4,261.6 466.6,261.6 467.7,261.6 468.8,261.6 469.9,261.6 471.0,261.6 472.2,261.7 473.3,262.0 474.4,263.6 474.4,263.6 473.3,265.2 472.2,265.5 471.0,265.6 469.9,265.6 468.8,265.6 467.7,265.6 466.6,265.6 465.4,265.6 464.3,265.6 463.2,265.6 462.1,265.6 460.9,265.5 459.8,265.2 458.7,263.6" fill="rgb(0,0,0)"/>
<polygon points="473.8,264.0 474.9,262.4 476.0,262.1 477.2,262.0 478.3,262.0 479.4,262.0 480.5,262.0 481.6,262.0 482.8,262.0 483.9,262.0 485.0,262.0 486.1,262.0 487.3,262.1 488.4,262.4 489.5,264.0 489.5,264.0 488.4,265.6 487.3,265.9 486.1,266.0 485.0,266.0 483.9,266.0 482.8,266.0 481.6,266.0 480.5,266.0 479.4,266.0 478.3,266.0 477.2,266.0 476.0,265.9 474.9,265.6 473.8,264.0" fill="rgb(0,0,0)"/>
<polygon points="489.6,264.0 490.7,262.4 491.8,262.1 493.0,262.0 494.1,262.0 495.2,262.0 496.3,262.0 497.4,262.0 498.6,262.0 499.7,262.0 500.8,262.0 501.9,262.0 503.1,262.1 504.2,262.4 505.3,264.0 505.3,264.0 504.2,265.6 503.1,265.9 501.9,266.0 500.8,266.0 499.7,266.0 498.6,266.0 497.4,266.0 496.3,266.0 495.2,266.0 494.1,266.0 493.0,266.0 491.8,265.9 490.7,265.6 489.6,264.0" fill="rgb(0,0,0)"/>
<polygon points="505.4,263.6 506.5,262.0 507.6,261.7 508.7,261.6 509.8,261.6 510.9,261.6 512.0,261.6 513.0,261.6 514.1,261.6 515.2,261.6 516.3,261.6 517.4,261.6 518.5,261.7 519.6,262.0 520.7,263.6 520.7,263.6 519.6,265.2 518.5,265.5 517.4,265.6 516.3,265.6 515.2,265.6 514.1,265.6 513.0,265.6 512.0,265.6 510.9,265.6 509.8,265.6 508.7,265.6 507.6,265.5 506.5,265.2 505.4,263.6" fill="rgb(0,0,0)"/>
<polygon points="521.4,263.0 522.5,261.2 523.6,260.9 524.8,260.8 525.9,260.8 527.0,260.8 528.1,260.8 529.2,260.8 530.4,260.8 531.5,260.8 532.6,260.8 533.7,260.8 534.9,260.9 536.0,261.2 537.1,263.0 537.1,263.0 536.0,264.8 534.9,265.1 533.7,265.2 532.6,265.2 531.5,265.2 530.4,265.2 529.2,265.2 528.1,265.2 527.0,265.2 525.9,265.2 524.8,265.2 523.6,265.1 522.5,264.8 521.4,263.0" fill="rgb(0,0,0)"/>
<polygon points="537.5,263.0 538.6,261.4 539.7,261.1 540.7,261.0 541.8,261.0 542.9,261.0 544.0,261.0 545.0,261.0 546.1,261.0 547.2,261.0 548.3,261.0 549.4,261.0 550.4,261.1 551.5,261.4 552.6,263.0 552.6,263.0 551.5,264.6 550.4,264.9 549.4,265.0 548.3,265.0 547.2,265.0 546.1,265.0 545.0,265.0 544.0,265.0 542.9,265.0 541.8,265.0 540.7,265.0 539.7,264.9 538.6,264.6 537.5,263.0" fill="rgb(50,50,50)"/>
<polygon points="553.3,263.0 554.4,261.2 555.5,260.9 556.7,260.8 557.8,260.8 558.9,260.8 560.0,260.8 561.1,260.8 562.3,260.8 563.4,260.8 564.5,260.8 565.6,260.8 566.8,260.9 567.9,261.2 569.0,263.0 569.0,263.0 567.9,264.8 566.8,265.1 565.6,265.2 564.5,265.2 563.4,265.2 562.3,265.2 561.1,265.2 560.0,265.2 558.9,265.2 557.8,265.2 556.7,265.2 555.5,265.1 554.4,264.8 553.3,263.0" fill="rgb(0,0,0)"/>
<polygon points="569.1,264.0 570.3,262.4 571.6,262.1 572.8,262.0 574.0,262.0 575.2,262.0 576.5,262.0 577.7,262.0 578.9,262.0 580.2,262.0 581.4,262.0 582.6,262.0 583.8,262.1 585.1,262.4 586.3,264.0 586.3,264.0 585.1,265.6 583.8,265.9 582.6,266.0 581.4,266.0 580.2,266.0 578.9,266.0 577.7,266.0 576.5,266.0 575.2,266.0 574.0,266.0 572.8,266.0 571.6,265.9 570.3,265.6 569.1,264.0" fill="rgb(20,20,20)"/>
<polygon points="586.1,265.0 587.2,263.2 588.3,262.9 589.4,262.8 590.5,262.8 591.6,262.8 592.7,262.8 593.8,262.8 594.9,262.8 596.0,262.8 597.1,262.8 598.2,262.8 599.3,262.9 600.4,263.2 601.5,265.0 601.5,265.0 600.4,266.8 599.3,267.1 598.2,267.2 597.1,267.2 596.0,267.2 594.9,267.2 593.8,267.2 592.7,267.2 591.6,267.2 590.5,267.2 589.4,267.2 588.3,267.1 587.2,266.8 586.1,265.0" fill="rgb(0,0,0)"/>
<polygon points="602.2,265.6 603.2,264.0 604.3,263.7 605.3,263.6 606.3,263.6 607.3,263.6 608.4,263.6 609.4,263.6 610.4,263.6 611.5,263.6 612.5,263.6 613.5,263.6 614.5,263.7 615.6,264.0 616.6,265.6 616.6,265.6 615.6,267.2 614.5,267.5 613.5,267.6 612.5,267.6 611.5,267.6 610.4,267.6 609.4,267.6 608.4,267.6 607.3,267.6 606.3,267.6 605.3,267.6 604.3,267.5 603.2,267.2 602.2,265.6" fill="rgb(20,20,20)"/>
<polygon points="617.1,265.6 618.2,263.8 619.3,263.5 620.4,263.4 621.5,263.4 622.6,263.4 623.7,263.4 624.8,263.4 625.8,263.4 626.9,263.4 628.0,263.4 629.1,263.4 630.2,263.5 631.3,263.8 632.4,265.6 632.4,265.6 631.3,267.4 630.2,267.7 629.1,267.8 628.0,267.8 626.9,267.8 625.8,267.8 624.8,267.9 623.7,267.8 622.6,267.8 621.5,267.8 620.4,267.8 619.3,267.7 618.2,267.4 617.1,265.6" fill="rgb(0,0,0)"/>
<polygon points="632.5,265.6 633.6,263.8 634.8,263.5 635.9,263.4 637.0,263.4 638.1,263.4 639.3,263.4 640.4,263.4 641.5,263.4 642.7,263.4 643.8,263.4 644.9,263.4 646.0,263.5 647.2,263.8 648.3,265.6 648.3,265.6 647.2,267.4 646.0,267.7 644.9,267.8 643.8,267.8 642.7,267.8 641.5,267.8 640.4,267.9 639.3,267.8 638.1,267.8 637.0,267.8 635.9,267.8 634.8,267.7 633.6,267.4 632.5,265.6" fill="rgb(0,0,0)"/>
<polygon points="648.6,265.6 649.6,263.8 650.6,263.5 651.7,263.4 652.7,263.4 653.7,263.4 654.7,263.4 655.8,263.4 656.8,263.4 657.8,263.4 658.8,263.4 659.8,263.4 660.9,263.5 661.9,263.8 662.9,265.6 662.9,265.6 661.9,267.4 660.9,267.7 659.8,267.8 658.8,267.8 657.8,267.8 656.8,267.8 655.8,267.9 654.7,267.8 653.7,267.8 652.7,267.8 651.7,267.8 650.6,267.7 649.6,267.4 648.6,265.6" fill="rgb(0,0,0)"/>
<polygon points="664.0,265.6 665.1,263.6 666.2,263.2 667.2,263.1 668.3,263.1 669.4,263.1 670.5,263.1 671.5,263.1 672.6,263.1 673.7,263.1 674.8,263.1 675.9,263.1 676.9,263.2 678.0,263.6 679.1,265.6 679.1,265.6 678.0,267.6 676.9,268.0 675.9,268.1 674.8,268.1 673.7,268.1 672.6,268.1 671.5,268.1 670.5,268.1 669.4,268.1 668.3,268.1 667.2,268.1 666.2,268.0 665.1,267.6 664.0,265.6" fill="rgb(0,0,0)"/>
<polygon points="430.7,282.7 431.7,280.9 432.7,280.6 433.7,280.5 434.6,280.5 435.6,280.5 436.6,280.5 437.6,280.4 438.6,280.5 439.6,280.5 440.6,280.5 441.5,280.5 442.5,280.6 443.5,280.9 444.5,282.7 444.5,282.7 443.5,284.5 442.5,284.8 441.5,284.9 440.6,284.9 439.6,284.9 438.6,284.9 437.6,284.9 436.6,284.9 435.6,284.9 434.6,284.9 433.7,284.9 432.7,284.8 431.7,284.5 430.7,282.7" fill="rgb(0,0,0)"/>
<polygon points="443.4,282.7 444.5,280.7 445.6,280.3 446.7,280.2 447.9,280.2 449.0,280.2 450.1,280.2 451.2,280.2 452.3,280.2 453.4,280.2 454.5,280.2 455.7,280.2 456.8,280.3 457.9,280.7 459.0,282.7 459.0,282.7 457.9,284.7 456.8,285.1 455.7,285.2 454.5,285.2 453.4,285.2 452.3,285.2 451.2,285.2 450.1,285.2 449.0,285.2 447.9,285.2 446.7,285.2 445.6,285.1 444.5,284.7 443.4,282.7" fill="rgb(0,0,0)"/>
<polygon points="457.9,282.7 459.1,280.7 460.3,280.3 461.4,280.2 462.6,280.2 463.8,280.2 465.0,280.2 466.1,280.2 467.3,280.2 468.5,280.2 469.7,280.2 470.9,280.2 472.0,280.3 473.2,280.7 474.4,282.7 474.4,282.7 473.2,284.7 472.0,285.1 470.9,285.2 469.7,285.2 468.5,285.2 467.3,285.2 466.1,285.2 465.0,285.2 463.8,285.2 462.6,285.2 461.4,285.2 460.3,285.1 459.1,284.7 457.9,282.7" fill="rgb(0,0,0)"/>
<polygon points="473.4,283.6 474.6,281.2 475.8,280.7 476.9,280.6 478.1,280.6 479.3,280.6 480.5,280.6 481.6,280.6 482.8,280.6 484.0,280.6 485.2,280.6 486.4,280.6 487.5,280.7 488.7,281.2 489.9,283.6 489.9,283.6 488.7,286.0 487.5,286.5 486.4,286.6 485.2,286.6 484.0,286.6 482.8,286.6 481.6,286.6 480.5,286.6 479.3,286.6 478.1,286.6 476.9,286.6 475.8,286.5 474.6,286.0 473.4,283.6" fill="rgb(0,0,0)"/>
<polygon points="488.9,283.0 490.1,281.0 491.2,280.6 492.4,280.5 493.6,280.5 494.8,280.5 495.9,280.5 497.1,280.5 498.3,280.5 499.4,280.5 500.6,280.5 501.8,280.5 503.0,280.6 504.1,281.0 505.3,283.0 505.3,283.0 504.1,285.0 503.0,285.4 501.8,285.5 500.6,285.5 499.4,285.5 498.3,285.5 497.1,285.5 495.9,285.5 494.8,285.5 493.6,285.5 492.4,285.5 491.2,285.4 490.1,285.0 488.9,283.0" fill="rgb(0,0,0)"/>
<polygon points="503.9,282.6 505.1,280.6 506.3,280.2 507.5,280.1 508.7,280.1 509.9,280.1 511.1,280.1 512.3,280.1 513.5,280.1 514.7,280.1 515.9,280.1 517.1,280.1 518.3,280.2 519.5,280.6 520.7,282.6 520.7,282.6 519.5,284.6 518.3,285.0 517.1,285.1 515.9,285.1 514.7,285.1 513.5,285.1 512.3,285.1 511.1,285.1 509.9,285.1 508.7,285.1 507.5,285.1 506.3,285.0 505.1,284.6 503.9,282.6" fill="rgb(0,0,0)"/>
<polygon points="519.7,281.9 520.9,279.9 522.2,279.5 523.4,279.4 524.7,279.4 525.9,279.4 527.2,279.4 528.4,279.4 529.6,279.4 530.9,279.4 532.1,279.4 533.4,279.4 534.6,279.5 535.9,279.9 537.1,281.9 537.1,281.9 535.9,283.9 534.6,284.3 533.4,284.4 532.1,284.4 530.9,284.4 529.6,284.4 528.4,284.4 527.2,284.4 525.9,284.4 524.7,284.4 523.4,284.4 522.2,284.3 520.9,283.9 519.7,281.9" fill="rgb(0,0,0)"/>
<polygon points="535.9,281.9 537.1,279.9 538.4,279.5 539.6,279.4 540.8,279.4 542.0,279.4 543.3,279.4 544.5,279.4 545.7,279.4 547.0,279.4 548.2,279.4 549.4,279.4 550.6,279.5 551.9,279.9 553.1,281.9 553.1,281.9 551.9,283.9 550.6,284.3 549.4,284.4 548.2,284.4 547.0,284.4 545.7,284.4 544.5,284.4 543.3,284.4 542.0,284.4 540.8,284.4 539.6,284.4 538.4,284.3 537.1,283.9 535.9,281.9" fill="rgb(0,0,0)"/>
<polygon points="551.7,282.7 553.0,280.5 554.2,280.1 555.5,280.0 556.8,280.0 558.0,280.0 559.3,280.0 560.5,279.9 561.8,280.0 563.1,280.0 564.3,280.0 565.6,280.0 566.9,280.1 568.1,280.5 569.4,282.7 569.4,282.7 568.1,284.9 566.9,285.3 565.6,285.4 564.3,285.4 563.1,285.4 561.8,285.4 560.5,285.4 559.3,285.4 558.0,285.4 556.8,285.4 555.5,285.4 554.2,285.3 553.0,284.9 551.7,282.7" fill="rgb(0,0,0)"/>
<polygon points="568.3,284.2 569.6,282.0 570.9,281.6 572.2,281.5 573.4,281.5 574.7,281.5 576.0,281.5 577.3,281.4 578.6,281.5 579.9,281.5 581.2,281.5 582.4,281.5 583.7,281.6 585.0,282.0 586.3,284.2 586.3,284.2 585.0,286.4 583.7,286.8 582.4,286.9 581.2,286.9 579.9,286.9 578.6,286.9 577.3,286.9 576.0,286.9 574.7,286.9 573.4,286.9 572.2,286.9 570.9,286.8 569.6,286.4 568.3,284.2" fill="rgb(0,0,0)"/>
<polygon points="585.1,285.5 586.3,283.3 587.5,282.9 588.7,282.8 589.9,282.8 591.1,282.8 592.3,282.8 593.5,282.8 594.6,282.8 595.8,282.8 597.0,282.8 598.2,282.8 599.4,282.9 600.6,283.3 601.8,285.5 601.8,285.5 600.6,287.7 599.4,288.1 598.2,288.2 597.0,288.2 595.8,288.2 594.6,288.2 593.5,288.2 592.3,288.2 591.1,288.2 589.9,288.2 588.7,288.2 587.5,288.1 586.3,287.7 585.1,285.5" fill="rgb(0,0,0)"/>
<polygon points="601.1,286.0 602.3,284.0 603.4,283.6 604.6,283.5 605.7,283.5 606.9,283.5 608.0,283.5 609.2,283.5 610.3,283.5 611.5,283.5 612.6,283.5 613.8,283.5 614.9,283.6 616.1,284.0 617.2,286.0 617.2,286.0 616.1,288.0 614.9,288.4 613.8,288.5 612.6,288.5 611.5,288.5 610.3,288.5 609.2,288.5 608.0,288.5 606.9,288.5 605.7,288.5 604.6,288.5 603.4,288.4 602.3,288.0 601.1,286.0" fill="rgb(0,0,0)"/>
<polygon points="615.9,286.0 617.1,284.0 618.3,283.6 619.5,283.5 620.7,283.5 621.9,283.5 623.1,283.5 624.4,283.5 625.6,283.5 626.8,283.5 628.0,283.5 629.2,283.5 630.4,283.6 631.6,284.0 632.8,286.0 632.8,286.0 631.6,288.0 630.4,288.4 629.2,288.5 628.0,288.5 626.8,288.5 625.6,288.5 624.4,288.5 623.1,288.5 621.9,288.5 620.7,288.5 619.5,288.5 618.3,288.4 617.1,288.0 615.9,286.0" fill="rgb(0,0,0)"/>
<polygon points="631.8,285.2 633.1,283.0 634.3,282.6 635.6,282.5 636.8,282.5 638.1,282.5 639.3,282.5 640.6,282.4 641.9,282.5 643.1,282.5 644.4,282.5 645.6,282.5 646.9,282.6 648.1,283.0 649.4,285.2 649.4,285.2 648.1,287.4 646.9,287.8 645.6,287.9 644.4,287.9 643.1,287.9 641.9,287.9 640.6,287.9 639.3,287.9 638.1,287.9 636.8,287.9 635.6,287.9 634.3,287.8 633.1,287.4 631.8,285.2" fill="rgb(0,0,0)"/>
<polygon points="648.6,285.0 649.7,283.0 650.8,282.6 652.0,282.5 653.1,282.5 654.2,282.5 655.3,282.5 656.5,282.5 657.6,282.5 658.7,282.5 659.8,282.5 660.9,282.5 662.1,282.6 663.2,283.0 664.3,285.0 664.3,285.0 663.2,287.0 662.1,287.4 660.9,287.5 659.8,287.5 658.7,287.5 657.6,287.5 656.5,287.5 655.3,287.5 654.2,287.5 653.1,287.5 652.0,287.5 650.8,287.4 649.7,287.0 648.6,285.0" fill="rgb(0,0,0)"/>
<polygon points="663.4,285.6 664.6,283.6 665.9,283.2 667.1,283.1 668.3,283.1 669.6,283.1 670.8,283.1 672.0,283.1 673.3,283.1 674.5,283.1 675.8,283.1 677.0,283.1 678.2,283.2 679.5,283.6 680.7,285.6 680.7,285.6 679.5,287.6 678.2,288.0 677.0,288.1 675.8,288.1 674.5,288.1 673.3,288.1 672.0,288.1 670.8,288.1 669.6,288.1 668.3,288.1 667.1,288.1 665.9,288.0 664.6,287.6 663.4,285.6" fill="rgb(0,0,0)"/>
</g>
</svg>
</body></html>
